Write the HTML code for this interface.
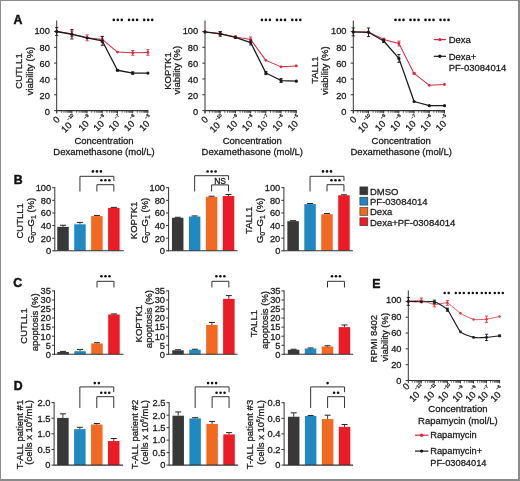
<!DOCTYPE html>
<html><head><meta charset="utf-8"><style>
html,body{margin:0;padding:0;background:#fff;width:520px;height:481px;overflow:hidden;}
svg{display:block;font-family:"Liberation Sans",sans-serif;will-change:transform;}
text{stroke:#1a1a1a;stroke-width:0.28px;}
</style></head><body>
<svg width="520" height="481" viewBox="0 0 520 481" font-family="Liberation Sans, sans-serif">
<g>
<rect x="0" y="0" width="520" height="481" fill="#fff"/>
<text x="13.6" y="23.8" font-size="12.3" text-anchor="start" font-weight="bold" fill="#111" style="stroke:#111;stroke-width:0.45px">A</text>
<text x="13.8" y="184.2" font-size="12.3" text-anchor="start" font-weight="bold" fill="#111" style="stroke:#111;stroke-width:0.45px">B</text>
<text x="13.2" y="287.4" font-size="12.3" text-anchor="start" font-weight="bold" fill="#111" style="stroke:#111;stroke-width:0.45px">C</text>
<text x="13.8" y="390.2" font-size="12.3" text-anchor="start" font-weight="bold" fill="#111" style="stroke:#111;stroke-width:0.45px">D</text>
<text x="372.2" y="288.2" font-size="12.3" text-anchor="start" font-weight="bold" fill="#111" style="stroke:#111;stroke-width:0.45px">E</text>
<line x1="56.7" y1="20.5" x2="56.7" y2="113.1" stroke="#333" stroke-width="1"/>
<line x1="54.1" y1="31.5" x2="56.7" y2="31.5" stroke="#333" stroke-width="1"/>
<text x="49.9" y="34.35" font-size="9.3" text-anchor="end" font-weight="normal" fill="#222" >100</text>
<line x1="54.1" y1="47.32" x2="56.7" y2="47.32" stroke="#333" stroke-width="1"/>
<text x="49.9" y="50.51" font-size="9.3" text-anchor="end" font-weight="normal" fill="#222" >80</text>
<line x1="54.1" y1="63.14" x2="56.7" y2="63.14" stroke="#333" stroke-width="1"/>
<text x="49.9" y="66.67" font-size="9.3" text-anchor="end" font-weight="normal" fill="#222" >60</text>
<line x1="54.1" y1="78.96" x2="56.7" y2="78.96" stroke="#333" stroke-width="1"/>
<text x="49.9" y="82.83" font-size="9.3" text-anchor="end" font-weight="normal" fill="#222" >40</text>
<line x1="54.1" y1="94.78" x2="56.7" y2="94.78" stroke="#333" stroke-width="1"/>
<text x="49.9" y="98.99" font-size="9.3" text-anchor="end" font-weight="normal" fill="#222" >20</text>
<line x1="54.1" y1="110.6" x2="56.7" y2="110.6" stroke="#333" stroke-width="1"/>
<text x="49.9" y="115.15" font-size="9.3" text-anchor="end" font-weight="normal" fill="#222" >0</text>
<line x1="56.7" y1="110.6" x2="148.4" y2="110.6" stroke="#333" stroke-width="1.1"/>
<line x1="61.28" y1="110.6" x2="61.28" y2="112.8" stroke="#333" stroke-width="0.75"/>
<line x1="63.95" y1="110.6" x2="63.95" y2="112.8" stroke="#333" stroke-width="0.75"/>
<line x1="65.85" y1="110.6" x2="65.85" y2="112.8" stroke="#333" stroke-width="0.75"/>
<line x1="67.32" y1="110.6" x2="67.32" y2="112.8" stroke="#333" stroke-width="0.75"/>
<line x1="68.53" y1="110.6" x2="68.53" y2="112.8" stroke="#333" stroke-width="0.75"/>
<line x1="69.55" y1="110.6" x2="69.55" y2="112.8" stroke="#333" stroke-width="0.75"/>
<line x1="70.43" y1="110.6" x2="70.43" y2="112.8" stroke="#333" stroke-width="0.75"/>
<line x1="71.2" y1="110.6" x2="71.2" y2="112.8" stroke="#333" stroke-width="0.75"/>
<line x1="76.48" y1="110.6" x2="76.48" y2="112.8" stroke="#333" stroke-width="0.75"/>
<line x1="79.15" y1="110.6" x2="79.15" y2="112.8" stroke="#333" stroke-width="0.75"/>
<line x1="81.05" y1="110.6" x2="81.05" y2="112.8" stroke="#333" stroke-width="0.75"/>
<line x1="82.52" y1="110.6" x2="82.52" y2="112.8" stroke="#333" stroke-width="0.75"/>
<line x1="83.73" y1="110.6" x2="83.73" y2="112.8" stroke="#333" stroke-width="0.75"/>
<line x1="84.75" y1="110.6" x2="84.75" y2="112.8" stroke="#333" stroke-width="0.75"/>
<line x1="85.63" y1="110.6" x2="85.63" y2="112.8" stroke="#333" stroke-width="0.75"/>
<line x1="86.4" y1="110.6" x2="86.4" y2="112.8" stroke="#333" stroke-width="0.75"/>
<line x1="91.68" y1="110.6" x2="91.68" y2="112.8" stroke="#333" stroke-width="0.75"/>
<line x1="94.35" y1="110.6" x2="94.35" y2="112.8" stroke="#333" stroke-width="0.75"/>
<line x1="96.25" y1="110.6" x2="96.25" y2="112.8" stroke="#333" stroke-width="0.75"/>
<line x1="97.72" y1="110.6" x2="97.72" y2="112.8" stroke="#333" stroke-width="0.75"/>
<line x1="98.93" y1="110.6" x2="98.93" y2="112.8" stroke="#333" stroke-width="0.75"/>
<line x1="99.95" y1="110.6" x2="99.95" y2="112.8" stroke="#333" stroke-width="0.75"/>
<line x1="100.83" y1="110.6" x2="100.83" y2="112.8" stroke="#333" stroke-width="0.75"/>
<line x1="101.6" y1="110.6" x2="101.6" y2="112.8" stroke="#333" stroke-width="0.75"/>
<line x1="106.88" y1="110.6" x2="106.88" y2="112.8" stroke="#333" stroke-width="0.75"/>
<line x1="109.55" y1="110.6" x2="109.55" y2="112.8" stroke="#333" stroke-width="0.75"/>
<line x1="111.45" y1="110.6" x2="111.45" y2="112.8" stroke="#333" stroke-width="0.75"/>
<line x1="112.92" y1="110.6" x2="112.92" y2="112.8" stroke="#333" stroke-width="0.75"/>
<line x1="114.13" y1="110.6" x2="114.13" y2="112.8" stroke="#333" stroke-width="0.75"/>
<line x1="115.15" y1="110.6" x2="115.15" y2="112.8" stroke="#333" stroke-width="0.75"/>
<line x1="116.03" y1="110.6" x2="116.03" y2="112.8" stroke="#333" stroke-width="0.75"/>
<line x1="116.8" y1="110.6" x2="116.8" y2="112.8" stroke="#333" stroke-width="0.75"/>
<line x1="122.08" y1="110.6" x2="122.08" y2="112.8" stroke="#333" stroke-width="0.75"/>
<line x1="124.75" y1="110.6" x2="124.75" y2="112.8" stroke="#333" stroke-width="0.75"/>
<line x1="126.65" y1="110.6" x2="126.65" y2="112.8" stroke="#333" stroke-width="0.75"/>
<line x1="128.12" y1="110.6" x2="128.12" y2="112.8" stroke="#333" stroke-width="0.75"/>
<line x1="129.33" y1="110.6" x2="129.33" y2="112.8" stroke="#333" stroke-width="0.75"/>
<line x1="130.35" y1="110.6" x2="130.35" y2="112.8" stroke="#333" stroke-width="0.75"/>
<line x1="131.23" y1="110.6" x2="131.23" y2="112.8" stroke="#333" stroke-width="0.75"/>
<line x1="132" y1="110.6" x2="132" y2="112.8" stroke="#333" stroke-width="0.75"/>
<line x1="137.28" y1="110.6" x2="137.28" y2="112.8" stroke="#333" stroke-width="0.75"/>
<line x1="139.95" y1="110.6" x2="139.95" y2="112.8" stroke="#333" stroke-width="0.75"/>
<line x1="141.85" y1="110.6" x2="141.85" y2="112.8" stroke="#333" stroke-width="0.75"/>
<line x1="143.32" y1="110.6" x2="143.32" y2="112.8" stroke="#333" stroke-width="0.75"/>
<line x1="144.53" y1="110.6" x2="144.53" y2="112.8" stroke="#333" stroke-width="0.75"/>
<line x1="145.55" y1="110.6" x2="145.55" y2="112.8" stroke="#333" stroke-width="0.75"/>
<line x1="146.43" y1="110.6" x2="146.43" y2="112.8" stroke="#333" stroke-width="0.75"/>
<line x1="147.2" y1="110.6" x2="147.2" y2="112.8" stroke="#333" stroke-width="0.75"/>
<line x1="56.7" y1="110.6" x2="56.7" y2="113.4" stroke="#333" stroke-width="1.0"/>
<line x1="71.9" y1="110.6" x2="71.9" y2="113.4" stroke="#333" stroke-width="1.0"/>
<line x1="87.1" y1="110.6" x2="87.1" y2="113.4" stroke="#333" stroke-width="1.0"/>
<line x1="102.3" y1="110.6" x2="102.3" y2="113.4" stroke="#333" stroke-width="1.0"/>
<line x1="117.5" y1="110.6" x2="117.5" y2="113.4" stroke="#333" stroke-width="1.0"/>
<line x1="132.7" y1="110.6" x2="132.7" y2="113.4" stroke="#333" stroke-width="1.0"/>
<line x1="147.9" y1="110.6" x2="147.9" y2="113.4" stroke="#333" stroke-width="1.0"/>
<text x="0" y="0" font-size="9.3" text-anchor="end" fill="#222" transform="translate(60.48,120.13) rotate(-45)">0</text>
<text x="0" y="0" font-size="9.3" text-anchor="end" fill="#222" transform="translate(78.27,120.03) rotate(-45)">10<tspan font-size="4.5" dx="0.7" dy="-6.3">−10</tspan></text>
<text x="0" y="0" font-size="9.3" text-anchor="end" fill="#222" transform="translate(93.6,120.2) rotate(-45)">10<tspan font-size="4.5" dx="0.7" dy="-6.3">−9</tspan></text>
<text x="0" y="0" font-size="9.3" text-anchor="end" fill="#222" transform="translate(108.8,120.2) rotate(-45)">10<tspan font-size="4.5" dx="0.7" dy="-6.3">−8</tspan></text>
<text x="0" y="0" font-size="9.3" text-anchor="end" fill="#222" transform="translate(124,120.2) rotate(-45)">10<tspan font-size="4.5" dx="0.7" dy="-6.3">−7</tspan></text>
<text x="0" y="0" font-size="9.3" text-anchor="end" fill="#222" transform="translate(139.2,120.2) rotate(-45)">10<tspan font-size="4.5" dx="0.7" dy="-6.3">−6</tspan></text>
<text x="0" y="0" font-size="9.3" text-anchor="end" fill="#222" transform="translate(154.4,120.2) rotate(-45)">10<tspan font-size="4.5" dx="0.7" dy="-6.3">−5</tspan></text>
<text x="104" y="144.1" font-size="9.5" text-anchor="middle" font-weight="normal" fill="#222" >Concentration</text>
<text x="104" y="155.4" font-size="9.5" text-anchor="middle" font-weight="normal" fill="#222" >Dexamethasone (mol/L)</text>
<text x="0" y="0" font-size="9.5" text-anchor="middle" fill="#222" transform="translate(21.6,71) rotate(-90)">CUTLL1</text>
<text x="0" y="0" font-size="9.5" text-anchor="middle" fill="#222" transform="translate(32.8,71) rotate(-90)">viability (%)</text>
<polyline points="56.7,31.5 71.9,33.87 87.1,37.83 102.3,39.41 117.5,52.07 132.7,52.86 147.9,52.46" fill="none" stroke="#d62a40" stroke-width="1.02" stroke-linejoin="round"/>
<circle cx="56.7" cy="31.5" r="1.4080000000000001" fill="#d62a40"/>
<line x1="71.9" y1="31.1" x2="71.9" y2="36.64" stroke="#d62a40" stroke-width="0.9"/>
<line x1="70.3" y1="31.1" x2="73.5" y2="31.1" stroke="#d62a40" stroke-width="0.9"/>
<line x1="70.3" y1="36.64" x2="73.5" y2="36.64" stroke="#d62a40" stroke-width="0.9"/>
<circle cx="71.9" cy="33.87" r="1.4080000000000001" fill="#d62a40"/>
<line x1="87.1" y1="34.82" x2="87.1" y2="40.83" stroke="#d62a40" stroke-width="0.9"/>
<line x1="85.5" y1="34.82" x2="88.7" y2="34.82" stroke="#d62a40" stroke-width="0.9"/>
<line x1="85.5" y1="40.83" x2="88.7" y2="40.83" stroke="#d62a40" stroke-width="0.9"/>
<circle cx="87.1" cy="37.83" r="1.4080000000000001" fill="#d62a40"/>
<line x1="102.3" y1="36.25" x2="102.3" y2="42.57" stroke="#d62a40" stroke-width="0.9"/>
<line x1="100.7" y1="36.25" x2="103.9" y2="36.25" stroke="#d62a40" stroke-width="0.9"/>
<line x1="100.7" y1="42.57" x2="103.9" y2="42.57" stroke="#d62a40" stroke-width="0.9"/>
<circle cx="102.3" cy="39.41" r="1.4080000000000001" fill="#d62a40"/>
<circle cx="117.5" cy="52.07" r="1.4080000000000001" fill="#d62a40"/>
<line x1="132.7" y1="50.48" x2="132.7" y2="55.23" stroke="#d62a40" stroke-width="0.9"/>
<line x1="131.1" y1="50.48" x2="134.3" y2="50.48" stroke="#d62a40" stroke-width="0.9"/>
<line x1="131.1" y1="55.23" x2="134.3" y2="55.23" stroke="#d62a40" stroke-width="0.9"/>
<circle cx="132.7" cy="52.86" r="1.4080000000000001" fill="#d62a40"/>
<line x1="147.9" y1="49.69" x2="147.9" y2="55.23" stroke="#d62a40" stroke-width="0.9"/>
<line x1="146.3" y1="49.69" x2="149.5" y2="49.69" stroke="#d62a40" stroke-width="0.9"/>
<line x1="146.3" y1="55.23" x2="149.5" y2="55.23" stroke="#d62a40" stroke-width="0.9"/>
<circle cx="147.9" cy="52.46" r="1.4080000000000001" fill="#d62a40"/>
<polyline points="56.7,31.5 71.9,34.27 87.1,37.83 102.3,40.99 117.5,70.26 132.7,73.03 147.9,73.03" fill="none" stroke="#1a1a1a" stroke-width="1.296" stroke-linejoin="round"/>
<line x1="56.7" y1="27.55" x2="56.7" y2="35.45" stroke="#1a1a1a" stroke-width="0.9"/>
<line x1="55.1" y1="27.55" x2="58.3" y2="27.55" stroke="#1a1a1a" stroke-width="0.9"/>
<line x1="55.1" y1="35.45" x2="58.3" y2="35.45" stroke="#1a1a1a" stroke-width="0.9"/>
<circle cx="56.7" cy="31.5" r="1.6" fill="#1a1a1a"/>
<line x1="71.9" y1="29.52" x2="71.9" y2="39.01" stroke="#1a1a1a" stroke-width="0.9"/>
<line x1="70.3" y1="29.52" x2="73.5" y2="29.52" stroke="#1a1a1a" stroke-width="0.9"/>
<line x1="70.3" y1="39.01" x2="73.5" y2="39.01" stroke="#1a1a1a" stroke-width="0.9"/>
<circle cx="71.9" cy="34.27" r="1.6" fill="#1a1a1a"/>
<circle cx="87.1" cy="37.83" r="1.6" fill="#1a1a1a"/>
<line x1="102.3" y1="36.64" x2="102.3" y2="45.34" stroke="#1a1a1a" stroke-width="0.9"/>
<line x1="100.7" y1="36.64" x2="103.9" y2="36.64" stroke="#1a1a1a" stroke-width="0.9"/>
<line x1="100.7" y1="45.34" x2="103.9" y2="45.34" stroke="#1a1a1a" stroke-width="0.9"/>
<circle cx="102.3" cy="40.99" r="1.6" fill="#1a1a1a"/>
<line x1="117.5" y1="69.47" x2="117.5" y2="71.05" stroke="#1a1a1a" stroke-width="0.9"/>
<line x1="115.9" y1="69.47" x2="119.1" y2="69.47" stroke="#1a1a1a" stroke-width="0.9"/>
<line x1="115.9" y1="71.05" x2="119.1" y2="71.05" stroke="#1a1a1a" stroke-width="0.9"/>
<circle cx="117.5" cy="70.26" r="1.6" fill="#1a1a1a"/>
<line x1="132.7" y1="71.84" x2="132.7" y2="74.21" stroke="#1a1a1a" stroke-width="0.9"/>
<line x1="131.1" y1="71.84" x2="134.3" y2="71.84" stroke="#1a1a1a" stroke-width="0.9"/>
<line x1="131.1" y1="74.21" x2="134.3" y2="74.21" stroke="#1a1a1a" stroke-width="0.9"/>
<circle cx="132.7" cy="73.03" r="1.6" fill="#1a1a1a"/>
<circle cx="147.9" cy="73.03" r="1.6" fill="#1a1a1a"/>
<circle cx="113.8" cy="19.9" r="1.3" fill="#111"/>
<circle cx="117.8" cy="19.9" r="1.3" fill="#111"/>
<circle cx="121.8" cy="19.9" r="1.3" fill="#111"/>
<circle cx="129.05" cy="19.9" r="1.3" fill="#111"/>
<circle cx="133.05" cy="19.9" r="1.3" fill="#111"/>
<circle cx="137.05" cy="19.9" r="1.3" fill="#111"/>
<circle cx="144.2" cy="19.9" r="1.3" fill="#111"/>
<circle cx="148.2" cy="19.9" r="1.3" fill="#111"/>
<circle cx="152.2" cy="19.9" r="1.3" fill="#111"/>
<line x1="205" y1="20.5" x2="205" y2="113.1" stroke="#333" stroke-width="1"/>
<line x1="202.4" y1="31.5" x2="205" y2="31.5" stroke="#333" stroke-width="1"/>
<text x="198.2" y="34.35" font-size="9.3" text-anchor="end" font-weight="normal" fill="#222" >100</text>
<line x1="202.4" y1="47.32" x2="205" y2="47.32" stroke="#333" stroke-width="1"/>
<text x="198.2" y="50.51" font-size="9.3" text-anchor="end" font-weight="normal" fill="#222" >80</text>
<line x1="202.4" y1="63.14" x2="205" y2="63.14" stroke="#333" stroke-width="1"/>
<text x="198.2" y="66.67" font-size="9.3" text-anchor="end" font-weight="normal" fill="#222" >60</text>
<line x1="202.4" y1="78.96" x2="205" y2="78.96" stroke="#333" stroke-width="1"/>
<text x="198.2" y="82.83" font-size="9.3" text-anchor="end" font-weight="normal" fill="#222" >40</text>
<line x1="202.4" y1="94.78" x2="205" y2="94.78" stroke="#333" stroke-width="1"/>
<text x="198.2" y="98.99" font-size="9.3" text-anchor="end" font-weight="normal" fill="#222" >20</text>
<line x1="202.4" y1="110.6" x2="205" y2="110.6" stroke="#333" stroke-width="1"/>
<text x="198.2" y="115.15" font-size="9.3" text-anchor="end" font-weight="normal" fill="#222" >0</text>
<line x1="205" y1="110.6" x2="296.82" y2="110.6" stroke="#333" stroke-width="1.1"/>
<line x1="209.58" y1="110.6" x2="209.58" y2="112.8" stroke="#333" stroke-width="0.75"/>
<line x1="212.26" y1="110.6" x2="212.26" y2="112.8" stroke="#333" stroke-width="0.75"/>
<line x1="214.16" y1="110.6" x2="214.16" y2="112.8" stroke="#333" stroke-width="0.75"/>
<line x1="215.64" y1="110.6" x2="215.64" y2="112.8" stroke="#333" stroke-width="0.75"/>
<line x1="216.84" y1="110.6" x2="216.84" y2="112.8" stroke="#333" stroke-width="0.75"/>
<line x1="217.86" y1="110.6" x2="217.86" y2="112.8" stroke="#333" stroke-width="0.75"/>
<line x1="218.75" y1="110.6" x2="218.75" y2="112.8" stroke="#333" stroke-width="0.75"/>
<line x1="219.52" y1="110.6" x2="219.52" y2="112.8" stroke="#333" stroke-width="0.75"/>
<line x1="224.8" y1="110.6" x2="224.8" y2="112.8" stroke="#333" stroke-width="0.75"/>
<line x1="227.48" y1="110.6" x2="227.48" y2="112.8" stroke="#333" stroke-width="0.75"/>
<line x1="229.38" y1="110.6" x2="229.38" y2="112.8" stroke="#333" stroke-width="0.75"/>
<line x1="230.86" y1="110.6" x2="230.86" y2="112.8" stroke="#333" stroke-width="0.75"/>
<line x1="232.06" y1="110.6" x2="232.06" y2="112.8" stroke="#333" stroke-width="0.75"/>
<line x1="233.08" y1="110.6" x2="233.08" y2="112.8" stroke="#333" stroke-width="0.75"/>
<line x1="233.97" y1="110.6" x2="233.97" y2="112.8" stroke="#333" stroke-width="0.75"/>
<line x1="234.74" y1="110.6" x2="234.74" y2="112.8" stroke="#333" stroke-width="0.75"/>
<line x1="240.02" y1="110.6" x2="240.02" y2="112.8" stroke="#333" stroke-width="0.75"/>
<line x1="242.7" y1="110.6" x2="242.7" y2="112.8" stroke="#333" stroke-width="0.75"/>
<line x1="244.6" y1="110.6" x2="244.6" y2="112.8" stroke="#333" stroke-width="0.75"/>
<line x1="246.08" y1="110.6" x2="246.08" y2="112.8" stroke="#333" stroke-width="0.75"/>
<line x1="247.28" y1="110.6" x2="247.28" y2="112.8" stroke="#333" stroke-width="0.75"/>
<line x1="248.3" y1="110.6" x2="248.3" y2="112.8" stroke="#333" stroke-width="0.75"/>
<line x1="249.19" y1="110.6" x2="249.19" y2="112.8" stroke="#333" stroke-width="0.75"/>
<line x1="249.96" y1="110.6" x2="249.96" y2="112.8" stroke="#333" stroke-width="0.75"/>
<line x1="255.24" y1="110.6" x2="255.24" y2="112.8" stroke="#333" stroke-width="0.75"/>
<line x1="257.92" y1="110.6" x2="257.92" y2="112.8" stroke="#333" stroke-width="0.75"/>
<line x1="259.82" y1="110.6" x2="259.82" y2="112.8" stroke="#333" stroke-width="0.75"/>
<line x1="261.3" y1="110.6" x2="261.3" y2="112.8" stroke="#333" stroke-width="0.75"/>
<line x1="262.5" y1="110.6" x2="262.5" y2="112.8" stroke="#333" stroke-width="0.75"/>
<line x1="263.52" y1="110.6" x2="263.52" y2="112.8" stroke="#333" stroke-width="0.75"/>
<line x1="264.41" y1="110.6" x2="264.41" y2="112.8" stroke="#333" stroke-width="0.75"/>
<line x1="265.18" y1="110.6" x2="265.18" y2="112.8" stroke="#333" stroke-width="0.75"/>
<line x1="270.46" y1="110.6" x2="270.46" y2="112.8" stroke="#333" stroke-width="0.75"/>
<line x1="273.14" y1="110.6" x2="273.14" y2="112.8" stroke="#333" stroke-width="0.75"/>
<line x1="275.04" y1="110.6" x2="275.04" y2="112.8" stroke="#333" stroke-width="0.75"/>
<line x1="276.52" y1="110.6" x2="276.52" y2="112.8" stroke="#333" stroke-width="0.75"/>
<line x1="277.72" y1="110.6" x2="277.72" y2="112.8" stroke="#333" stroke-width="0.75"/>
<line x1="278.74" y1="110.6" x2="278.74" y2="112.8" stroke="#333" stroke-width="0.75"/>
<line x1="279.63" y1="110.6" x2="279.63" y2="112.8" stroke="#333" stroke-width="0.75"/>
<line x1="280.4" y1="110.6" x2="280.4" y2="112.8" stroke="#333" stroke-width="0.75"/>
<line x1="285.68" y1="110.6" x2="285.68" y2="112.8" stroke="#333" stroke-width="0.75"/>
<line x1="288.36" y1="110.6" x2="288.36" y2="112.8" stroke="#333" stroke-width="0.75"/>
<line x1="290.26" y1="110.6" x2="290.26" y2="112.8" stroke="#333" stroke-width="0.75"/>
<line x1="291.74" y1="110.6" x2="291.74" y2="112.8" stroke="#333" stroke-width="0.75"/>
<line x1="292.94" y1="110.6" x2="292.94" y2="112.8" stroke="#333" stroke-width="0.75"/>
<line x1="293.96" y1="110.6" x2="293.96" y2="112.8" stroke="#333" stroke-width="0.75"/>
<line x1="294.85" y1="110.6" x2="294.85" y2="112.8" stroke="#333" stroke-width="0.75"/>
<line x1="295.62" y1="110.6" x2="295.62" y2="112.8" stroke="#333" stroke-width="0.75"/>
<line x1="205" y1="110.6" x2="205" y2="113.4" stroke="#333" stroke-width="1.0"/>
<line x1="220.22" y1="110.6" x2="220.22" y2="113.4" stroke="#333" stroke-width="1.0"/>
<line x1="235.44" y1="110.6" x2="235.44" y2="113.4" stroke="#333" stroke-width="1.0"/>
<line x1="250.66" y1="110.6" x2="250.66" y2="113.4" stroke="#333" stroke-width="1.0"/>
<line x1="265.88" y1="110.6" x2="265.88" y2="113.4" stroke="#333" stroke-width="1.0"/>
<line x1="281.1" y1="110.6" x2="281.1" y2="113.4" stroke="#333" stroke-width="1.0"/>
<line x1="296.32" y1="110.6" x2="296.32" y2="113.4" stroke="#333" stroke-width="1.0"/>
<text x="0" y="0" font-size="9.3" text-anchor="end" fill="#222" transform="translate(208.78,120.13) rotate(-45)">0</text>
<text x="0" y="0" font-size="9.3" text-anchor="end" fill="#222" transform="translate(226.59,120.03) rotate(-45)">10<tspan font-size="4.5" dx="0.7" dy="-6.3">−10</tspan></text>
<text x="0" y="0" font-size="9.3" text-anchor="end" fill="#222" transform="translate(241.94,120.2) rotate(-45)">10<tspan font-size="4.5" dx="0.7" dy="-6.3">−9</tspan></text>
<text x="0" y="0" font-size="9.3" text-anchor="end" fill="#222" transform="translate(257.16,120.2) rotate(-45)">10<tspan font-size="4.5" dx="0.7" dy="-6.3">−8</tspan></text>
<text x="0" y="0" font-size="9.3" text-anchor="end" fill="#222" transform="translate(272.38,120.2) rotate(-45)">10<tspan font-size="4.5" dx="0.7" dy="-6.3">−7</tspan></text>
<text x="0" y="0" font-size="9.3" text-anchor="end" fill="#222" transform="translate(287.6,120.2) rotate(-45)">10<tspan font-size="4.5" dx="0.7" dy="-6.3">−6</tspan></text>
<text x="0" y="0" font-size="9.3" text-anchor="end" fill="#222" transform="translate(302.82,120.2) rotate(-45)">10<tspan font-size="4.5" dx="0.7" dy="-6.3">−5</tspan></text>
<text x="252.3" y="144.1" font-size="9.5" text-anchor="middle" font-weight="normal" fill="#222" >Concentration</text>
<text x="252.3" y="155.4" font-size="9.5" text-anchor="middle" font-weight="normal" fill="#222" >Dexamethasone (mol/L)</text>
<text x="0" y="0" font-size="9.5" text-anchor="middle" fill="#222" transform="translate(170.6,71) rotate(-90)">KOPTK1</text>
<text x="0" y="0" font-size="9.5" text-anchor="middle" fill="#222" transform="translate(180.3,70.2) rotate(-90)">viability (%)</text>
<polyline points="205,31.9 220.22,33.48 235.44,37.04 250.66,39.41 265.88,60.37 281.1,66.86 296.32,65.91" fill="none" stroke="#d62a40" stroke-width="1.02" stroke-linejoin="round"/>
<circle cx="205" cy="31.9" r="1.4080000000000001" fill="#d62a40"/>
<line x1="220.22" y1="31.9" x2="220.22" y2="35.06" stroke="#d62a40" stroke-width="0.9"/>
<line x1="218.62" y1="31.9" x2="221.82" y2="31.9" stroke="#d62a40" stroke-width="0.9"/>
<line x1="218.62" y1="35.06" x2="221.82" y2="35.06" stroke="#d62a40" stroke-width="0.9"/>
<circle cx="220.22" cy="33.48" r="1.4080000000000001" fill="#d62a40"/>
<line x1="235.44" y1="35.85" x2="235.44" y2="38.22" stroke="#d62a40" stroke-width="0.9"/>
<line x1="233.84" y1="35.85" x2="237.04" y2="35.85" stroke="#d62a40" stroke-width="0.9"/>
<line x1="233.84" y1="38.22" x2="237.04" y2="38.22" stroke="#d62a40" stroke-width="0.9"/>
<circle cx="235.44" cy="37.04" r="1.4080000000000001" fill="#d62a40"/>
<line x1="250.66" y1="37.04" x2="250.66" y2="41.78" stroke="#d62a40" stroke-width="0.9"/>
<line x1="249.06" y1="37.04" x2="252.26" y2="37.04" stroke="#d62a40" stroke-width="0.9"/>
<line x1="249.06" y1="41.78" x2="252.26" y2="41.78" stroke="#d62a40" stroke-width="0.9"/>
<circle cx="250.66" cy="39.41" r="1.4080000000000001" fill="#d62a40"/>
<circle cx="265.88" cy="60.37" r="1.4080000000000001" fill="#d62a40"/>
<circle cx="281.1" cy="66.86" r="1.4080000000000001" fill="#d62a40"/>
<circle cx="296.32" cy="65.91" r="1.4080000000000001" fill="#d62a40"/>
<polyline points="205,31.9 220.22,33.87 235.44,37.43 250.66,42.57 265.88,73.03 281.1,80.54 296.32,81.17" fill="none" stroke="#1a1a1a" stroke-width="1.296" stroke-linejoin="round"/>
<circle cx="205" cy="31.9" r="1.6" fill="#1a1a1a"/>
<line x1="220.22" y1="31.5" x2="220.22" y2="36.25" stroke="#1a1a1a" stroke-width="0.9"/>
<line x1="218.62" y1="31.5" x2="221.82" y2="31.5" stroke="#1a1a1a" stroke-width="0.9"/>
<line x1="218.62" y1="36.25" x2="221.82" y2="36.25" stroke="#1a1a1a" stroke-width="0.9"/>
<circle cx="220.22" cy="33.87" r="1.6" fill="#1a1a1a"/>
<circle cx="235.44" cy="37.43" r="1.6" fill="#1a1a1a"/>
<line x1="250.66" y1="40.2" x2="250.66" y2="44.95" stroke="#1a1a1a" stroke-width="0.9"/>
<line x1="249.06" y1="40.2" x2="252.26" y2="40.2" stroke="#1a1a1a" stroke-width="0.9"/>
<line x1="249.06" y1="44.95" x2="252.26" y2="44.95" stroke="#1a1a1a" stroke-width="0.9"/>
<circle cx="250.66" cy="42.57" r="1.6" fill="#1a1a1a"/>
<line x1="265.88" y1="71.45" x2="265.88" y2="74.61" stroke="#1a1a1a" stroke-width="0.9"/>
<line x1="264.28" y1="71.45" x2="267.48" y2="71.45" stroke="#1a1a1a" stroke-width="0.9"/>
<line x1="264.28" y1="74.61" x2="267.48" y2="74.61" stroke="#1a1a1a" stroke-width="0.9"/>
<circle cx="265.88" cy="73.03" r="1.6" fill="#1a1a1a"/>
<line x1="281.1" y1="78.56" x2="281.1" y2="82.52" stroke="#1a1a1a" stroke-width="0.9"/>
<line x1="279.5" y1="78.56" x2="282.7" y2="78.56" stroke="#1a1a1a" stroke-width="0.9"/>
<line x1="279.5" y1="82.52" x2="282.7" y2="82.52" stroke="#1a1a1a" stroke-width="0.9"/>
<circle cx="281.1" cy="80.54" r="1.6" fill="#1a1a1a"/>
<circle cx="296.32" cy="81.17" r="1.6" fill="#1a1a1a"/>
<circle cx="261.9" cy="19.9" r="1.3" fill="#111"/>
<circle cx="265.9" cy="19.9" r="1.3" fill="#111"/>
<circle cx="269.9" cy="19.9" r="1.3" fill="#111"/>
<circle cx="277" cy="19.9" r="1.3" fill="#111"/>
<circle cx="281" cy="19.9" r="1.3" fill="#111"/>
<circle cx="285" cy="19.9" r="1.3" fill="#111"/>
<circle cx="292.3" cy="19.9" r="1.3" fill="#111"/>
<circle cx="296.3" cy="19.9" r="1.3" fill="#111"/>
<circle cx="300.3" cy="19.9" r="1.3" fill="#111"/>
<line x1="353.3" y1="20.5" x2="353.3" y2="113.1" stroke="#333" stroke-width="1"/>
<line x1="350.7" y1="31.5" x2="353.3" y2="31.5" stroke="#333" stroke-width="1"/>
<text x="346.5" y="34.35" font-size="9.3" text-anchor="end" font-weight="normal" fill="#222" >100</text>
<line x1="350.7" y1="47.32" x2="353.3" y2="47.32" stroke="#333" stroke-width="1"/>
<text x="346.5" y="50.51" font-size="9.3" text-anchor="end" font-weight="normal" fill="#222" >80</text>
<line x1="350.7" y1="63.14" x2="353.3" y2="63.14" stroke="#333" stroke-width="1"/>
<text x="346.5" y="66.67" font-size="9.3" text-anchor="end" font-weight="normal" fill="#222" >60</text>
<line x1="350.7" y1="78.96" x2="353.3" y2="78.96" stroke="#333" stroke-width="1"/>
<text x="346.5" y="82.83" font-size="9.3" text-anchor="end" font-weight="normal" fill="#222" >40</text>
<line x1="350.7" y1="94.78" x2="353.3" y2="94.78" stroke="#333" stroke-width="1"/>
<text x="346.5" y="98.99" font-size="9.3" text-anchor="end" font-weight="normal" fill="#222" >20</text>
<line x1="350.7" y1="110.6" x2="353.3" y2="110.6" stroke="#333" stroke-width="1"/>
<text x="346.5" y="115.15" font-size="9.3" text-anchor="end" font-weight="normal" fill="#222" >0</text>
<line x1="353.3" y1="110.6" x2="445" y2="110.6" stroke="#333" stroke-width="1.1"/>
<line x1="357.88" y1="110.6" x2="357.88" y2="112.8" stroke="#333" stroke-width="0.75"/>
<line x1="360.55" y1="110.6" x2="360.55" y2="112.8" stroke="#333" stroke-width="0.75"/>
<line x1="362.45" y1="110.6" x2="362.45" y2="112.8" stroke="#333" stroke-width="0.75"/>
<line x1="363.92" y1="110.6" x2="363.92" y2="112.8" stroke="#333" stroke-width="0.75"/>
<line x1="365.13" y1="110.6" x2="365.13" y2="112.8" stroke="#333" stroke-width="0.75"/>
<line x1="366.15" y1="110.6" x2="366.15" y2="112.8" stroke="#333" stroke-width="0.75"/>
<line x1="367.03" y1="110.6" x2="367.03" y2="112.8" stroke="#333" stroke-width="0.75"/>
<line x1="367.8" y1="110.6" x2="367.8" y2="112.8" stroke="#333" stroke-width="0.75"/>
<line x1="373.08" y1="110.6" x2="373.08" y2="112.8" stroke="#333" stroke-width="0.75"/>
<line x1="375.75" y1="110.6" x2="375.75" y2="112.8" stroke="#333" stroke-width="0.75"/>
<line x1="377.65" y1="110.6" x2="377.65" y2="112.8" stroke="#333" stroke-width="0.75"/>
<line x1="379.12" y1="110.6" x2="379.12" y2="112.8" stroke="#333" stroke-width="0.75"/>
<line x1="380.33" y1="110.6" x2="380.33" y2="112.8" stroke="#333" stroke-width="0.75"/>
<line x1="381.35" y1="110.6" x2="381.35" y2="112.8" stroke="#333" stroke-width="0.75"/>
<line x1="382.23" y1="110.6" x2="382.23" y2="112.8" stroke="#333" stroke-width="0.75"/>
<line x1="383" y1="110.6" x2="383" y2="112.8" stroke="#333" stroke-width="0.75"/>
<line x1="388.28" y1="110.6" x2="388.28" y2="112.8" stroke="#333" stroke-width="0.75"/>
<line x1="390.95" y1="110.6" x2="390.95" y2="112.8" stroke="#333" stroke-width="0.75"/>
<line x1="392.85" y1="110.6" x2="392.85" y2="112.8" stroke="#333" stroke-width="0.75"/>
<line x1="394.32" y1="110.6" x2="394.32" y2="112.8" stroke="#333" stroke-width="0.75"/>
<line x1="395.53" y1="110.6" x2="395.53" y2="112.8" stroke="#333" stroke-width="0.75"/>
<line x1="396.55" y1="110.6" x2="396.55" y2="112.8" stroke="#333" stroke-width="0.75"/>
<line x1="397.43" y1="110.6" x2="397.43" y2="112.8" stroke="#333" stroke-width="0.75"/>
<line x1="398.2" y1="110.6" x2="398.2" y2="112.8" stroke="#333" stroke-width="0.75"/>
<line x1="403.48" y1="110.6" x2="403.48" y2="112.8" stroke="#333" stroke-width="0.75"/>
<line x1="406.15" y1="110.6" x2="406.15" y2="112.8" stroke="#333" stroke-width="0.75"/>
<line x1="408.05" y1="110.6" x2="408.05" y2="112.8" stroke="#333" stroke-width="0.75"/>
<line x1="409.52" y1="110.6" x2="409.52" y2="112.8" stroke="#333" stroke-width="0.75"/>
<line x1="410.73" y1="110.6" x2="410.73" y2="112.8" stroke="#333" stroke-width="0.75"/>
<line x1="411.75" y1="110.6" x2="411.75" y2="112.8" stroke="#333" stroke-width="0.75"/>
<line x1="412.63" y1="110.6" x2="412.63" y2="112.8" stroke="#333" stroke-width="0.75"/>
<line x1="413.4" y1="110.6" x2="413.4" y2="112.8" stroke="#333" stroke-width="0.75"/>
<line x1="418.68" y1="110.6" x2="418.68" y2="112.8" stroke="#333" stroke-width="0.75"/>
<line x1="421.35" y1="110.6" x2="421.35" y2="112.8" stroke="#333" stroke-width="0.75"/>
<line x1="423.25" y1="110.6" x2="423.25" y2="112.8" stroke="#333" stroke-width="0.75"/>
<line x1="424.72" y1="110.6" x2="424.72" y2="112.8" stroke="#333" stroke-width="0.75"/>
<line x1="425.93" y1="110.6" x2="425.93" y2="112.8" stroke="#333" stroke-width="0.75"/>
<line x1="426.95" y1="110.6" x2="426.95" y2="112.8" stroke="#333" stroke-width="0.75"/>
<line x1="427.83" y1="110.6" x2="427.83" y2="112.8" stroke="#333" stroke-width="0.75"/>
<line x1="428.6" y1="110.6" x2="428.6" y2="112.8" stroke="#333" stroke-width="0.75"/>
<line x1="433.88" y1="110.6" x2="433.88" y2="112.8" stroke="#333" stroke-width="0.75"/>
<line x1="436.55" y1="110.6" x2="436.55" y2="112.8" stroke="#333" stroke-width="0.75"/>
<line x1="438.45" y1="110.6" x2="438.45" y2="112.8" stroke="#333" stroke-width="0.75"/>
<line x1="439.92" y1="110.6" x2="439.92" y2="112.8" stroke="#333" stroke-width="0.75"/>
<line x1="441.13" y1="110.6" x2="441.13" y2="112.8" stroke="#333" stroke-width="0.75"/>
<line x1="442.15" y1="110.6" x2="442.15" y2="112.8" stroke="#333" stroke-width="0.75"/>
<line x1="443.03" y1="110.6" x2="443.03" y2="112.8" stroke="#333" stroke-width="0.75"/>
<line x1="443.8" y1="110.6" x2="443.8" y2="112.8" stroke="#333" stroke-width="0.75"/>
<line x1="353.3" y1="110.6" x2="353.3" y2="113.4" stroke="#333" stroke-width="1.0"/>
<line x1="368.5" y1="110.6" x2="368.5" y2="113.4" stroke="#333" stroke-width="1.0"/>
<line x1="383.7" y1="110.6" x2="383.7" y2="113.4" stroke="#333" stroke-width="1.0"/>
<line x1="398.9" y1="110.6" x2="398.9" y2="113.4" stroke="#333" stroke-width="1.0"/>
<line x1="414.1" y1="110.6" x2="414.1" y2="113.4" stroke="#333" stroke-width="1.0"/>
<line x1="429.3" y1="110.6" x2="429.3" y2="113.4" stroke="#333" stroke-width="1.0"/>
<line x1="444.5" y1="110.6" x2="444.5" y2="113.4" stroke="#333" stroke-width="1.0"/>
<text x="0" y="0" font-size="9.3" text-anchor="end" fill="#222" transform="translate(357.08,120.13) rotate(-45)">0</text>
<text x="0" y="0" font-size="9.3" text-anchor="end" fill="#222" transform="translate(374.87,120.03) rotate(-45)">10<tspan font-size="4.5" dx="0.7" dy="-6.3">−10</tspan></text>
<text x="0" y="0" font-size="9.3" text-anchor="end" fill="#222" transform="translate(390.2,120.2) rotate(-45)">10<tspan font-size="4.5" dx="0.7" dy="-6.3">−9</tspan></text>
<text x="0" y="0" font-size="9.3" text-anchor="end" fill="#222" transform="translate(405.4,120.2) rotate(-45)">10<tspan font-size="4.5" dx="0.7" dy="-6.3">−8</tspan></text>
<text x="0" y="0" font-size="9.3" text-anchor="end" fill="#222" transform="translate(420.6,120.2) rotate(-45)">10<tspan font-size="4.5" dx="0.7" dy="-6.3">−7</tspan></text>
<text x="0" y="0" font-size="9.3" text-anchor="end" fill="#222" transform="translate(435.8,120.2) rotate(-45)">10<tspan font-size="4.5" dx="0.7" dy="-6.3">−6</tspan></text>
<text x="0" y="0" font-size="9.3" text-anchor="end" fill="#222" transform="translate(451,120.2) rotate(-45)">10<tspan font-size="4.5" dx="0.7" dy="-6.3">−5</tspan></text>
<text x="401.2" y="144.1" font-size="9.5" text-anchor="middle" font-weight="normal" fill="#222" >Concentration</text>
<text x="401.2" y="155.4" font-size="9.5" text-anchor="middle" font-weight="normal" fill="#222" >Dexamethasone (mol/L)</text>
<text x="0" y="0" font-size="9.5" text-anchor="middle" fill="#222" transform="translate(317.6,70.2) rotate(-90)">TALL1</text>
<text x="0" y="0" font-size="9.5" text-anchor="middle" fill="#222" transform="translate(327.8,70.6) rotate(-90)">viability (%)</text>
<polyline points="353.3,31.9 368.5,31.9 383.7,39.41 398.9,43.52 414.1,73.42 429.3,85.29 444.5,84.5" fill="none" stroke="#d62a40" stroke-width="1.02" stroke-linejoin="round"/>
<circle cx="353.3" cy="31.9" r="1.4080000000000001" fill="#d62a40"/>
<circle cx="368.5" cy="31.9" r="1.4080000000000001" fill="#d62a40"/>
<line x1="383.7" y1="38.22" x2="383.7" y2="40.6" stroke="#d62a40" stroke-width="0.9"/>
<line x1="382.1" y1="38.22" x2="385.3" y2="38.22" stroke="#d62a40" stroke-width="0.9"/>
<line x1="382.1" y1="40.6" x2="385.3" y2="40.6" stroke="#d62a40" stroke-width="0.9"/>
<circle cx="383.7" cy="39.41" r="1.4080000000000001" fill="#d62a40"/>
<line x1="398.9" y1="41.15" x2="398.9" y2="45.9" stroke="#d62a40" stroke-width="0.9"/>
<line x1="397.3" y1="41.15" x2="400.5" y2="41.15" stroke="#d62a40" stroke-width="0.9"/>
<line x1="397.3" y1="45.9" x2="400.5" y2="45.9" stroke="#d62a40" stroke-width="0.9"/>
<circle cx="398.9" cy="43.52" r="1.4080000000000001" fill="#d62a40"/>
<line x1="414.1" y1="72.63" x2="414.1" y2="74.21" stroke="#d62a40" stroke-width="0.9"/>
<line x1="412.5" y1="72.63" x2="415.7" y2="72.63" stroke="#d62a40" stroke-width="0.9"/>
<line x1="412.5" y1="74.21" x2="415.7" y2="74.21" stroke="#d62a40" stroke-width="0.9"/>
<circle cx="414.1" cy="73.42" r="1.4080000000000001" fill="#d62a40"/>
<circle cx="429.3" cy="85.29" r="1.4080000000000001" fill="#d62a40"/>
<circle cx="444.5" cy="84.5" r="1.4080000000000001" fill="#d62a40"/>
<polyline points="353.3,31.9 368.5,32.29 383.7,40.99 398.9,58.39 414.1,101.5 429.3,105.7 444.5,105.7" fill="none" stroke="#1a1a1a" stroke-width="1.296" stroke-linejoin="round"/>
<line x1="353.3" y1="27.94" x2="353.3" y2="35.85" stroke="#1a1a1a" stroke-width="0.9"/>
<line x1="351.7" y1="27.94" x2="354.9" y2="27.94" stroke="#1a1a1a" stroke-width="0.9"/>
<line x1="351.7" y1="35.85" x2="354.9" y2="35.85" stroke="#1a1a1a" stroke-width="0.9"/>
<circle cx="353.3" cy="31.9" r="1.6" fill="#1a1a1a"/>
<line x1="368.5" y1="27.94" x2="368.5" y2="36.64" stroke="#1a1a1a" stroke-width="0.9"/>
<line x1="366.9" y1="27.94" x2="370.1" y2="27.94" stroke="#1a1a1a" stroke-width="0.9"/>
<line x1="366.9" y1="36.64" x2="370.1" y2="36.64" stroke="#1a1a1a" stroke-width="0.9"/>
<circle cx="368.5" cy="32.29" r="1.6" fill="#1a1a1a"/>
<line x1="383.7" y1="39.41" x2="383.7" y2="42.57" stroke="#1a1a1a" stroke-width="0.9"/>
<line x1="382.1" y1="39.41" x2="385.3" y2="39.41" stroke="#1a1a1a" stroke-width="0.9"/>
<line x1="382.1" y1="42.57" x2="385.3" y2="42.57" stroke="#1a1a1a" stroke-width="0.9"/>
<circle cx="383.7" cy="40.99" r="1.6" fill="#1a1a1a"/>
<line x1="398.9" y1="54.44" x2="398.9" y2="62.35" stroke="#1a1a1a" stroke-width="0.9"/>
<line x1="397.3" y1="54.44" x2="400.5" y2="54.44" stroke="#1a1a1a" stroke-width="0.9"/>
<line x1="397.3" y1="62.35" x2="400.5" y2="62.35" stroke="#1a1a1a" stroke-width="0.9"/>
<circle cx="398.9" cy="58.39" r="1.6" fill="#1a1a1a"/>
<circle cx="414.1" cy="101.5" r="1.6" fill="#1a1a1a"/>
<circle cx="429.3" cy="105.7" r="1.6" fill="#1a1a1a"/>
<circle cx="444.5" cy="105.7" r="1.6" fill="#1a1a1a"/>
<circle cx="395.5" cy="19.9" r="1.3" fill="#111"/>
<circle cx="399.5" cy="19.9" r="1.3" fill="#111"/>
<circle cx="403.5" cy="19.9" r="1.3" fill="#111"/>
<circle cx="410.5" cy="19.9" r="1.3" fill="#111"/>
<circle cx="414.5" cy="19.9" r="1.3" fill="#111"/>
<circle cx="418.5" cy="19.9" r="1.3" fill="#111"/>
<circle cx="425.5" cy="19.9" r="1.3" fill="#111"/>
<circle cx="429.5" cy="19.9" r="1.3" fill="#111"/>
<circle cx="433.5" cy="19.9" r="1.3" fill="#111"/>
<circle cx="440.5" cy="19.9" r="1.3" fill="#111"/>
<circle cx="444.5" cy="19.9" r="1.3" fill="#111"/>
<circle cx="448.5" cy="19.9" r="1.3" fill="#111"/>
<line x1="433.8" y1="39.6" x2="446" y2="39.6" stroke="#d62a40" stroke-width="1.2"/>
<circle cx="439.9" cy="39.6" r="1.7" fill="#d62a40"/>
<text x="448.7" y="43" font-size="9.5" text-anchor="start" font-weight="normal" fill="#222" >Dexa</text>
<line x1="433.8" y1="56.3" x2="446" y2="56.3" stroke="#1a1a1a" stroke-width="1.2"/>
<circle cx="439.9" cy="56.3" r="1.7" fill="#1a1a1a"/>
<text x="448.7" y="59.7" font-size="9.5" text-anchor="start" font-weight="normal" fill="#222" >Dexa+</text>
<text x="448.7" y="70.7" font-size="9.5" text-anchor="start" font-weight="normal" fill="#222" >PF-03084014</text>
<rect x="57.25" y="226.82" width="11.5" height="23.98" fill="#383838"/>
<line x1="63" y1="226.82" x2="63" y2="225.24" stroke="#222" stroke-width="0.9"/>
<line x1="60" y1="225.24" x2="66" y2="225.24" stroke="#222" stroke-width="1"/>
<rect x="74.2" y="224.3" width="11.5" height="26.5" fill="#2089c2"/>
<line x1="79.95" y1="224.3" x2="79.95" y2="222.41" stroke="#222" stroke-width="0.9"/>
<line x1="76.95" y1="222.41" x2="82.95" y2="222.41" stroke="#222" stroke-width="1"/>
<rect x="91.15" y="216.09" width="11.5" height="34.71" fill="#f26a22"/>
<line x1="96.9" y1="216.09" x2="96.9" y2="215.46" stroke="#222" stroke-width="0.9"/>
<line x1="93.9" y1="215.46" x2="99.9" y2="215.46" stroke="#222" stroke-width="1"/>
<rect x="108.1" y="207.89" width="11.5" height="42.91" fill="#ec1c26"/>
<line x1="113.85" y1="207.89" x2="113.85" y2="207.39" stroke="#222" stroke-width="0.9"/>
<line x1="110.85" y1="207.39" x2="116.85" y2="207.39" stroke="#222" stroke-width="1"/>
<line x1="54.8" y1="187.2" x2="54.8" y2="251.3" stroke="#333" stroke-width="1"/>
<line x1="52.2" y1="250.8" x2="54.8" y2="250.8" stroke="#333" stroke-width="1"/>
<text x="51.2" y="254.15" font-size="9.3" text-anchor="end" font-weight="normal" fill="#222" >0</text>
<line x1="52.2" y1="238.18" x2="54.8" y2="238.18" stroke="#333" stroke-width="1"/>
<text x="51.2" y="241.53" font-size="9.3" text-anchor="end" font-weight="normal" fill="#222" >20</text>
<line x1="52.2" y1="225.56" x2="54.8" y2="225.56" stroke="#333" stroke-width="1"/>
<text x="51.2" y="228.91" font-size="9.3" text-anchor="end" font-weight="normal" fill="#222" >40</text>
<line x1="52.2" y1="212.94" x2="54.8" y2="212.94" stroke="#333" stroke-width="1"/>
<text x="51.2" y="216.29" font-size="9.3" text-anchor="end" font-weight="normal" fill="#222" >60</text>
<line x1="52.2" y1="200.32" x2="54.8" y2="200.32" stroke="#333" stroke-width="1"/>
<text x="51.2" y="203.67" font-size="9.3" text-anchor="end" font-weight="normal" fill="#222" >80</text>
<line x1="52.2" y1="187.7" x2="54.8" y2="187.7" stroke="#333" stroke-width="1"/>
<text x="51.2" y="191.05" font-size="9.3" text-anchor="end" font-weight="normal" fill="#222" >100</text>
<line x1="54.8" y1="250.8" x2="123.8" y2="250.8" stroke="#333" stroke-width="1.1"/>
<text x="0" y="0" font-size="9.5" text-anchor="middle" fill="#222" transform="translate(22.5,220.8) rotate(-90)">CUTLL1</text>
<text x="0" y="0" font-size="9.5" text-anchor="middle" fill="#222" transform="translate(33.8,220.4) rotate(-90)">G<tspan font-size="7" dy="2.3">0</tspan><tspan dy="-2.3">–G</tspan><tspan font-size="7" dy="2.3">1</tspan><tspan dy="-2.3"> (%)</tspan></text>
<polyline points="79.95,191.5 79.95,176.3 113.85,176.3 113.85,180.9" fill="none" stroke="#333" stroke-width="1"/>
<circle cx="92.9" cy="171.4" r="1.3" fill="#111"/>
<circle cx="96.9" cy="171.4" r="1.3" fill="#111"/>
<circle cx="100.9" cy="171.4" r="1.3" fill="#111"/>
<polyline points="96.9,191.5 96.9,184.7 113.85,184.7 113.85,191.5" fill="none" stroke="#333" stroke-width="1"/>
<circle cx="101.38" cy="180.2" r="1.3" fill="#111"/>
<circle cx="105.38" cy="180.2" r="1.3" fill="#111"/>
<circle cx="109.38" cy="180.2" r="1.3" fill="#111"/>
<rect x="171.95" y="217.8" width="11.5" height="33" fill="#383838"/>
<line x1="177.7" y1="217.8" x2="177.7" y2="217.29" stroke="#222" stroke-width="0.9"/>
<line x1="174.7" y1="217.29" x2="180.7" y2="217.29" stroke="#222" stroke-width="1"/>
<rect x="188.9" y="216.54" width="11.5" height="34.26" fill="#2089c2"/>
<line x1="194.65" y1="216.54" x2="194.65" y2="215.91" stroke="#222" stroke-width="0.9"/>
<line x1="191.65" y1="215.91" x2="197.65" y2="215.91" stroke="#222" stroke-width="1"/>
<rect x="205.85" y="196.85" width="11.5" height="53.95" fill="#f26a22"/>
<line x1="211.6" y1="196.85" x2="211.6" y2="196.22" stroke="#222" stroke-width="0.9"/>
<line x1="208.6" y1="196.22" x2="214.6" y2="196.22" stroke="#222" stroke-width="1"/>
<rect x="222.8" y="196.03" width="11.5" height="54.77" fill="#ec1c26"/>
<line x1="228.55" y1="196.03" x2="228.55" y2="194.45" stroke="#222" stroke-width="0.9"/>
<line x1="225.55" y1="194.45" x2="231.55" y2="194.45" stroke="#222" stroke-width="1"/>
<line x1="168.6" y1="187.2" x2="168.6" y2="251.3" stroke="#333" stroke-width="1"/>
<line x1="166" y1="250.8" x2="168.6" y2="250.8" stroke="#333" stroke-width="1"/>
<text x="165" y="254.15" font-size="9.3" text-anchor="end" font-weight="normal" fill="#222" >0</text>
<line x1="166" y1="238.18" x2="168.6" y2="238.18" stroke="#333" stroke-width="1"/>
<text x="165" y="241.53" font-size="9.3" text-anchor="end" font-weight="normal" fill="#222" >20</text>
<line x1="166" y1="225.56" x2="168.6" y2="225.56" stroke="#333" stroke-width="1"/>
<text x="165" y="228.91" font-size="9.3" text-anchor="end" font-weight="normal" fill="#222" >40</text>
<line x1="166" y1="212.94" x2="168.6" y2="212.94" stroke="#333" stroke-width="1"/>
<text x="165" y="216.29" font-size="9.3" text-anchor="end" font-weight="normal" fill="#222" >60</text>
<line x1="166" y1="200.32" x2="168.6" y2="200.32" stroke="#333" stroke-width="1"/>
<text x="165" y="203.67" font-size="9.3" text-anchor="end" font-weight="normal" fill="#222" >80</text>
<line x1="166" y1="187.7" x2="168.6" y2="187.7" stroke="#333" stroke-width="1"/>
<text x="165" y="191.05" font-size="9.3" text-anchor="end" font-weight="normal" fill="#222" >100</text>
<line x1="168.6" y1="250.8" x2="237.6" y2="250.8" stroke="#333" stroke-width="1.1"/>
<text x="0" y="0" font-size="9.5" text-anchor="middle" fill="#222" transform="translate(136.8,220.4) rotate(-90)">KOPTK1</text>
<text x="0" y="0" font-size="9.5" text-anchor="middle" fill="#222" transform="translate(148,220.4) rotate(-90)">G<tspan font-size="7" dy="2.3">0</tspan><tspan dy="-2.3">–G</tspan><tspan font-size="7" dy="2.3">1</tspan><tspan dy="-2.3"> (%)</tspan></text>
<polyline points="194.65,191.5 194.65,175.7 228.55,175.7 228.55,179.9" fill="none" stroke="#333" stroke-width="1"/>
<circle cx="207.6" cy="171.5" r="1.3" fill="#111"/>
<circle cx="211.6" cy="171.5" r="1.3" fill="#111"/>
<circle cx="215.6" cy="171.5" r="1.3" fill="#111"/>
<polyline points="211.6,191.5 211.6,184.9 228.55,184.9 228.55,191.5" fill="none" stroke="#333" stroke-width="1"/>
<text x="220.07" y="183.7" font-size="8.5" text-anchor="middle" font-weight="normal" fill="#222" >NS</text>
<rect x="287.35" y="221.14" width="11.5" height="29.66" fill="#383838"/>
<line x1="293.1" y1="221.14" x2="293.1" y2="220.64" stroke="#222" stroke-width="0.9"/>
<line x1="290.1" y1="220.64" x2="296.1" y2="220.64" stroke="#222" stroke-width="1"/>
<rect x="304.3" y="204.11" width="11.5" height="46.69" fill="#2089c2"/>
<line x1="310.05" y1="204.11" x2="310.05" y2="203.6" stroke="#222" stroke-width="0.9"/>
<line x1="307.05" y1="203.6" x2="313.05" y2="203.6" stroke="#222" stroke-width="1"/>
<rect x="321.25" y="214.2" width="11.5" height="36.6" fill="#f26a22"/>
<line x1="327" y1="214.2" x2="327" y2="213.57" stroke="#222" stroke-width="0.9"/>
<line x1="324" y1="213.57" x2="330" y2="213.57" stroke="#222" stroke-width="1"/>
<rect x="338.2" y="195.27" width="11.5" height="55.53" fill="#ec1c26"/>
<line x1="343.95" y1="195.27" x2="343.95" y2="194.77" stroke="#222" stroke-width="0.9"/>
<line x1="340.95" y1="194.77" x2="346.95" y2="194.77" stroke="#222" stroke-width="1"/>
<line x1="283.9" y1="187.2" x2="283.9" y2="251.3" stroke="#333" stroke-width="1"/>
<line x1="281.3" y1="250.8" x2="283.9" y2="250.8" stroke="#333" stroke-width="1"/>
<text x="280.3" y="254.15" font-size="9.3" text-anchor="end" font-weight="normal" fill="#222" >0</text>
<line x1="281.3" y1="238.18" x2="283.9" y2="238.18" stroke="#333" stroke-width="1"/>
<text x="280.3" y="241.53" font-size="9.3" text-anchor="end" font-weight="normal" fill="#222" >20</text>
<line x1="281.3" y1="225.56" x2="283.9" y2="225.56" stroke="#333" stroke-width="1"/>
<text x="280.3" y="228.91" font-size="9.3" text-anchor="end" font-weight="normal" fill="#222" >40</text>
<line x1="281.3" y1="212.94" x2="283.9" y2="212.94" stroke="#333" stroke-width="1"/>
<text x="280.3" y="216.29" font-size="9.3" text-anchor="end" font-weight="normal" fill="#222" >60</text>
<line x1="281.3" y1="200.32" x2="283.9" y2="200.32" stroke="#333" stroke-width="1"/>
<text x="280.3" y="203.67" font-size="9.3" text-anchor="end" font-weight="normal" fill="#222" >80</text>
<line x1="281.3" y1="187.7" x2="283.9" y2="187.7" stroke="#333" stroke-width="1"/>
<text x="280.3" y="191.05" font-size="9.3" text-anchor="end" font-weight="normal" fill="#222" >100</text>
<line x1="283.9" y1="250.8" x2="352.9" y2="250.8" stroke="#333" stroke-width="1.1"/>
<text x="0" y="0" font-size="9.5" text-anchor="middle" fill="#222" transform="translate(251.7,220.3) rotate(-90)">TALL1</text>
<text x="0" y="0" font-size="9.5" text-anchor="middle" fill="#222" transform="translate(263,220.4) rotate(-90)">G<tspan font-size="7" dy="2.3">0</tspan><tspan dy="-2.3">–G</tspan><tspan font-size="7" dy="2.3">1</tspan><tspan dy="-2.3"> (%)</tspan></text>
<polyline points="310.05,191.5 310.05,176.3 343.95,176.3 343.95,180.9" fill="none" stroke="#333" stroke-width="1"/>
<circle cx="323" cy="171.4" r="1.3" fill="#111"/>
<circle cx="327" cy="171.4" r="1.3" fill="#111"/>
<circle cx="331" cy="171.4" r="1.3" fill="#111"/>
<polyline points="327,191.5 327,184.7 343.95,184.7 343.95,191.5" fill="none" stroke="#333" stroke-width="1"/>
<circle cx="331.47" cy="180.2" r="1.3" fill="#111"/>
<circle cx="335.47" cy="180.2" r="1.3" fill="#111"/>
<circle cx="339.47" cy="180.2" r="1.3" fill="#111"/>
<rect x="359.9" y="186.9" width="7.9" height="7.9" fill="#383838" stroke="#333" stroke-width="0.6"/>
<text x="370" y="194.7" font-size="9.5" text-anchor="start" font-weight="normal" fill="#222" >DMSO</text>
<rect x="359.9" y="197.2" width="7.9" height="7.9" fill="#2089c2" stroke="#333" stroke-width="0.6"/>
<text x="370" y="205" font-size="9.5" text-anchor="start" font-weight="normal" fill="#222" >PF-03084014</text>
<rect x="359.9" y="207.5" width="7.9" height="7.9" fill="#f26a22" stroke="#333" stroke-width="0.6"/>
<text x="370" y="215.3" font-size="9.5" text-anchor="start" font-weight="normal" fill="#222" >Dexa</text>
<rect x="359.9" y="217.8" width="7.9" height="7.9" fill="#ec1c26" stroke="#333" stroke-width="0.6"/>
<text x="370" y="225.6" font-size="9.5" text-anchor="start" font-weight="normal" fill="#222" >Dexa+PF-03084014</text>
<rect x="57.35" y="351.95" width="11.5" height="2.35" fill="#383838"/>
<line x1="63.1" y1="351.95" x2="63.1" y2="351.4" stroke="#222" stroke-width="0.9"/>
<line x1="60.1" y1="351.4" x2="66.1" y2="351.4" stroke="#222" stroke-width="1"/>
<rect x="74.3" y="351.22" width="11.5" height="3.08" fill="#2089c2"/>
<line x1="80.05" y1="351.22" x2="80.05" y2="349.41" stroke="#222" stroke-width="0.9"/>
<line x1="77.05" y1="349.41" x2="83.05" y2="349.41" stroke="#222" stroke-width="1"/>
<rect x="91.25" y="343.43" width="11.5" height="10.87" fill="#f26a22"/>
<line x1="97" y1="343.43" x2="97" y2="342.71" stroke="#222" stroke-width="0.9"/>
<line x1="94" y1="342.71" x2="100" y2="342.71" stroke="#222" stroke-width="1"/>
<rect x="108.2" y="314.45" width="11.5" height="39.85" fill="#ec1c26"/>
<line x1="113.95" y1="314.45" x2="113.95" y2="313.91" stroke="#222" stroke-width="0.9"/>
<line x1="110.95" y1="313.91" x2="116.95" y2="313.91" stroke="#222" stroke-width="1"/>
<line x1="54.5" y1="290.4" x2="54.5" y2="354.8" stroke="#333" stroke-width="1"/>
<line x1="51.9" y1="354.3" x2="54.5" y2="354.3" stroke="#333" stroke-width="1"/>
<text x="50.9" y="357.65" font-size="9.3" text-anchor="end" font-weight="normal" fill="#222" >0</text>
<line x1="51.9" y1="345.24" x2="54.5" y2="345.24" stroke="#333" stroke-width="1"/>
<text x="50.9" y="348.59" font-size="9.3" text-anchor="end" font-weight="normal" fill="#222" >5</text>
<line x1="51.9" y1="336.19" x2="54.5" y2="336.19" stroke="#333" stroke-width="1"/>
<text x="50.9" y="339.53" font-size="9.3" text-anchor="end" font-weight="normal" fill="#222" >10</text>
<line x1="51.9" y1="327.13" x2="54.5" y2="327.13" stroke="#333" stroke-width="1"/>
<text x="50.9" y="330.48" font-size="9.3" text-anchor="end" font-weight="normal" fill="#222" >15</text>
<line x1="51.9" y1="318.07" x2="54.5" y2="318.07" stroke="#333" stroke-width="1"/>
<text x="50.9" y="321.42" font-size="9.3" text-anchor="end" font-weight="normal" fill="#222" >20</text>
<line x1="51.9" y1="309.01" x2="54.5" y2="309.01" stroke="#333" stroke-width="1"/>
<text x="50.9" y="312.36" font-size="9.3" text-anchor="end" font-weight="normal" fill="#222" >25</text>
<line x1="51.9" y1="299.96" x2="54.5" y2="299.96" stroke="#333" stroke-width="1"/>
<text x="50.9" y="303.31" font-size="9.3" text-anchor="end" font-weight="normal" fill="#222" >30</text>
<line x1="51.9" y1="290.9" x2="54.5" y2="290.9" stroke="#333" stroke-width="1"/>
<text x="50.9" y="294.25" font-size="9.3" text-anchor="end" font-weight="normal" fill="#222" >35</text>
<line x1="54.5" y1="354.3" x2="123.5" y2="354.3" stroke="#333" stroke-width="1.1"/>
<text x="0" y="0" font-size="9.5" text-anchor="middle" fill="#222" transform="translate(27.2,326) rotate(-90)">CUTLL1</text>
<text x="0" y="0" font-size="9.5" text-anchor="middle" fill="#222" transform="translate(38.2,322.3) rotate(-90)">apoptosis (%)</text>
<polyline points="97,287.5 97,281.3 113.95,281.3 113.95,287.5" fill="none" stroke="#333" stroke-width="1"/>
<circle cx="101.47" cy="276.3" r="1.3" fill="#111"/>
<circle cx="105.47" cy="276.3" r="1.3" fill="#111"/>
<circle cx="109.47" cy="276.3" r="1.3" fill="#111"/>
<rect x="172.25" y="350.31" width="11.5" height="3.99" fill="#383838"/>
<line x1="178" y1="350.31" x2="178" y2="349.77" stroke="#222" stroke-width="0.9"/>
<line x1="175" y1="349.77" x2="181" y2="349.77" stroke="#222" stroke-width="1"/>
<rect x="189.2" y="349.77" width="11.5" height="4.53" fill="#2089c2"/>
<line x1="194.95" y1="349.77" x2="194.95" y2="349.23" stroke="#222" stroke-width="0.9"/>
<line x1="191.95" y1="349.23" x2="197.95" y2="349.23" stroke="#222" stroke-width="1"/>
<rect x="206.15" y="324.95" width="11.5" height="29.35" fill="#f26a22"/>
<line x1="211.9" y1="324.95" x2="211.9" y2="322.42" stroke="#222" stroke-width="0.9"/>
<line x1="208.9" y1="322.42" x2="214.9" y2="322.42" stroke="#222" stroke-width="1"/>
<rect x="223.1" y="298.87" width="11.5" height="55.43" fill="#ec1c26"/>
<line x1="228.85" y1="298.87" x2="228.85" y2="295.61" stroke="#222" stroke-width="0.9"/>
<line x1="225.85" y1="295.61" x2="231.85" y2="295.61" stroke="#222" stroke-width="1"/>
<line x1="168.6" y1="290.4" x2="168.6" y2="354.8" stroke="#333" stroke-width="1"/>
<line x1="166" y1="354.3" x2="168.6" y2="354.3" stroke="#333" stroke-width="1"/>
<text x="165" y="357.65" font-size="9.3" text-anchor="end" font-weight="normal" fill="#222" >0</text>
<line x1="166" y1="345.24" x2="168.6" y2="345.24" stroke="#333" stroke-width="1"/>
<text x="165" y="348.59" font-size="9.3" text-anchor="end" font-weight="normal" fill="#222" >5</text>
<line x1="166" y1="336.19" x2="168.6" y2="336.19" stroke="#333" stroke-width="1"/>
<text x="165" y="339.53" font-size="9.3" text-anchor="end" font-weight="normal" fill="#222" >10</text>
<line x1="166" y1="327.13" x2="168.6" y2="327.13" stroke="#333" stroke-width="1"/>
<text x="165" y="330.48" font-size="9.3" text-anchor="end" font-weight="normal" fill="#222" >15</text>
<line x1="166" y1="318.07" x2="168.6" y2="318.07" stroke="#333" stroke-width="1"/>
<text x="165" y="321.42" font-size="9.3" text-anchor="end" font-weight="normal" fill="#222" >20</text>
<line x1="166" y1="309.01" x2="168.6" y2="309.01" stroke="#333" stroke-width="1"/>
<text x="165" y="312.36" font-size="9.3" text-anchor="end" font-weight="normal" fill="#222" >25</text>
<line x1="166" y1="299.96" x2="168.6" y2="299.96" stroke="#333" stroke-width="1"/>
<text x="165" y="303.31" font-size="9.3" text-anchor="end" font-weight="normal" fill="#222" >30</text>
<line x1="166" y1="290.9" x2="168.6" y2="290.9" stroke="#333" stroke-width="1"/>
<text x="165" y="294.25" font-size="9.3" text-anchor="end" font-weight="normal" fill="#222" >35</text>
<line x1="168.6" y1="354.3" x2="237.6" y2="354.3" stroke="#333" stroke-width="1.1"/>
<text x="0" y="0" font-size="9.5" text-anchor="middle" fill="#222" transform="translate(141.6,323.7) rotate(-90)">KOPTK1</text>
<text x="0" y="0" font-size="9.5" text-anchor="middle" fill="#222" transform="translate(152.2,319.1) rotate(-90)">apoptosis (%)</text>
<polyline points="211.9,287.5 211.9,281.3 228.85,281.3 228.85,287.5" fill="none" stroke="#333" stroke-width="1"/>
<circle cx="216.38" cy="276.3" r="1.3" fill="#111"/>
<circle cx="220.38" cy="276.3" r="1.3" fill="#111"/>
<circle cx="224.38" cy="276.3" r="1.3" fill="#111"/>
<rect x="287.85" y="349.77" width="11.5" height="4.53" fill="#383838"/>
<line x1="293.6" y1="349.77" x2="293.6" y2="349.23" stroke="#222" stroke-width="0.9"/>
<line x1="290.6" y1="349.23" x2="296.6" y2="349.23" stroke="#222" stroke-width="1"/>
<rect x="304.8" y="348.5" width="11.5" height="5.8" fill="#2089c2"/>
<line x1="310.55" y1="348.5" x2="310.55" y2="347.96" stroke="#222" stroke-width="0.9"/>
<line x1="307.55" y1="347.96" x2="313.55" y2="347.96" stroke="#222" stroke-width="1"/>
<rect x="321.75" y="346.51" width="11.5" height="7.79" fill="#f26a22"/>
<line x1="327.5" y1="346.51" x2="327.5" y2="345.79" stroke="#222" stroke-width="0.9"/>
<line x1="324.5" y1="345.79" x2="330.5" y2="345.79" stroke="#222" stroke-width="1"/>
<rect x="338.7" y="327.13" width="11.5" height="27.17" fill="#ec1c26"/>
<line x1="344.45" y1="327.13" x2="344.45" y2="324.95" stroke="#222" stroke-width="0.9"/>
<line x1="341.45" y1="324.95" x2="347.45" y2="324.95" stroke="#222" stroke-width="1"/>
<line x1="284.1" y1="290.4" x2="284.1" y2="354.8" stroke="#333" stroke-width="1"/>
<line x1="281.5" y1="354.3" x2="284.1" y2="354.3" stroke="#333" stroke-width="1"/>
<text x="280.5" y="357.65" font-size="9.3" text-anchor="end" font-weight="normal" fill="#222" >0</text>
<line x1="281.5" y1="345.24" x2="284.1" y2="345.24" stroke="#333" stroke-width="1"/>
<text x="280.5" y="348.59" font-size="9.3" text-anchor="end" font-weight="normal" fill="#222" >5</text>
<line x1="281.5" y1="336.19" x2="284.1" y2="336.19" stroke="#333" stroke-width="1"/>
<text x="280.5" y="339.53" font-size="9.3" text-anchor="end" font-weight="normal" fill="#222" >10</text>
<line x1="281.5" y1="327.13" x2="284.1" y2="327.13" stroke="#333" stroke-width="1"/>
<text x="280.5" y="330.48" font-size="9.3" text-anchor="end" font-weight="normal" fill="#222" >15</text>
<line x1="281.5" y1="318.07" x2="284.1" y2="318.07" stroke="#333" stroke-width="1"/>
<text x="280.5" y="321.42" font-size="9.3" text-anchor="end" font-weight="normal" fill="#222" >20</text>
<line x1="281.5" y1="309.01" x2="284.1" y2="309.01" stroke="#333" stroke-width="1"/>
<text x="280.5" y="312.36" font-size="9.3" text-anchor="end" font-weight="normal" fill="#222" >25</text>
<line x1="281.5" y1="299.96" x2="284.1" y2="299.96" stroke="#333" stroke-width="1"/>
<text x="280.5" y="303.31" font-size="9.3" text-anchor="end" font-weight="normal" fill="#222" >30</text>
<line x1="281.5" y1="290.9" x2="284.1" y2="290.9" stroke="#333" stroke-width="1"/>
<text x="280.5" y="294.25" font-size="9.3" text-anchor="end" font-weight="normal" fill="#222" >35</text>
<line x1="284.1" y1="354.3" x2="353.1" y2="354.3" stroke="#333" stroke-width="1.1"/>
<text x="0" y="0" font-size="9.5" text-anchor="middle" fill="#222" transform="translate(256.6,323.7) rotate(-90)">TALL1</text>
<text x="0" y="0" font-size="9.5" text-anchor="middle" fill="#222" transform="translate(267.6,320) rotate(-90)">apoptosis (%)</text>
<polyline points="327.5,287.5 327.5,281.3 344.45,281.3 344.45,287.5" fill="none" stroke="#333" stroke-width="1"/>
<circle cx="331.98" cy="276.3" r="1.3" fill="#111"/>
<circle cx="335.98" cy="276.3" r="1.3" fill="#111"/>
<circle cx="339.98" cy="276.3" r="1.3" fill="#111"/>
<rect x="57.15" y="417.91" width="11.5" height="47.19" fill="#383838"/>
<line x1="62.9" y1="417.91" x2="62.9" y2="413.85" stroke="#222" stroke-width="0.9"/>
<line x1="59.9" y1="413.85" x2="65.9" y2="413.85" stroke="#222" stroke-width="1"/>
<rect x="74.1" y="429.16" width="11.5" height="35.94" fill="#2089c2"/>
<line x1="79.85" y1="429.16" x2="79.85" y2="427.29" stroke="#222" stroke-width="0.9"/>
<line x1="76.85" y1="427.29" x2="82.85" y2="427.29" stroke="#222" stroke-width="1"/>
<rect x="91.05" y="424.48" width="11.5" height="40.62" fill="#f26a22"/>
<line x1="96.8" y1="424.48" x2="96.8" y2="423.54" stroke="#222" stroke-width="0.9"/>
<line x1="93.8" y1="423.54" x2="99.8" y2="423.54" stroke="#222" stroke-width="1"/>
<rect x="108" y="441.04" width="11.5" height="24.06" fill="#ec1c26"/>
<line x1="113.75" y1="441.04" x2="113.75" y2="438.54" stroke="#222" stroke-width="0.9"/>
<line x1="110.75" y1="438.54" x2="116.75" y2="438.54" stroke="#222" stroke-width="1"/>
<line x1="54.1" y1="402.1" x2="54.1" y2="465.6" stroke="#333" stroke-width="1"/>
<line x1="51.5" y1="465.1" x2="54.1" y2="465.1" stroke="#333" stroke-width="1"/>
<text x="50.5" y="468.45" font-size="9.3" text-anchor="end" font-weight="normal" fill="#222" >0</text>
<line x1="51.5" y1="449.48" x2="54.1" y2="449.48" stroke="#333" stroke-width="1"/>
<text x="50.5" y="452.82" font-size="9.3" text-anchor="end" font-weight="normal" fill="#222" >0.5</text>
<line x1="51.5" y1="433.85" x2="54.1" y2="433.85" stroke="#333" stroke-width="1"/>
<text x="50.5" y="437.2" font-size="9.3" text-anchor="end" font-weight="normal" fill="#222" >1.0</text>
<line x1="51.5" y1="418.23" x2="54.1" y2="418.23" stroke="#333" stroke-width="1"/>
<text x="50.5" y="421.57" font-size="9.3" text-anchor="end" font-weight="normal" fill="#222" >1.5</text>
<line x1="51.5" y1="402.6" x2="54.1" y2="402.6" stroke="#333" stroke-width="1"/>
<text x="50.5" y="405.95" font-size="9.3" text-anchor="end" font-weight="normal" fill="#222" >2.0</text>
<line x1="54.1" y1="465.1" x2="123.1" y2="465.1" stroke="#333" stroke-width="1.1"/>
<text x="0" y="0" font-size="9.5" text-anchor="middle" fill="#222" transform="translate(22.8,434.5) rotate(-90)">T-ALL patient #1</text>
<text x="0" y="0" font-size="9.5" text-anchor="middle" fill="#222" transform="translate(32.4,432.4) rotate(-90)">(cells x 10<tspan font-size="5" dy="-4">6</tspan><tspan dy="4">/mL)</tspan></text>
<polyline points="79.85,408 79.85,386.9 113.75,386.9 113.75,392.2" fill="none" stroke="#333" stroke-width="1"/>
<circle cx="94.8" cy="383.1" r="1.3" fill="#111"/>
<circle cx="98.8" cy="383.1" r="1.3" fill="#111"/>
<polyline points="96.8,408 96.8,396.7 113.75,396.7 113.75,408" fill="none" stroke="#333" stroke-width="1"/>
<circle cx="101.28" cy="392.7" r="1.3" fill="#111"/>
<circle cx="105.28" cy="392.7" r="1.3" fill="#111"/>
<circle cx="109.28" cy="392.7" r="1.3" fill="#111"/>
<rect x="172.45" y="415.68" width="11.5" height="49.42" fill="#383838"/>
<line x1="178.2" y1="415.68" x2="178.2" y2="411.94" stroke="#222" stroke-width="0.9"/>
<line x1="175.2" y1="411.94" x2="181.2" y2="411.94" stroke="#222" stroke-width="1"/>
<rect x="189.4" y="418.42" width="11.5" height="46.68" fill="#2089c2"/>
<line x1="195.15" y1="418.42" x2="195.15" y2="417.68" stroke="#222" stroke-width="0.9"/>
<line x1="192.15" y1="417.68" x2="198.15" y2="417.68" stroke="#222" stroke-width="1"/>
<rect x="206.35" y="423.92" width="11.5" height="41.18" fill="#f26a22"/>
<line x1="212.1" y1="423.92" x2="212.1" y2="421.42" stroke="#222" stroke-width="0.9"/>
<line x1="209.1" y1="421.42" x2="215.1" y2="421.42" stroke="#222" stroke-width="1"/>
<rect x="223.3" y="434.4" width="11.5" height="30.7" fill="#ec1c26"/>
<line x1="229.05" y1="434.4" x2="229.05" y2="432.65" stroke="#222" stroke-width="0.9"/>
<line x1="226.05" y1="432.65" x2="232.05" y2="432.65" stroke="#222" stroke-width="1"/>
<line x1="169.1" y1="402.2" x2="169.1" y2="465.6" stroke="#333" stroke-width="1"/>
<line x1="166.5" y1="465.1" x2="169.1" y2="465.1" stroke="#333" stroke-width="1"/>
<text x="165.5" y="468.45" font-size="9.3" text-anchor="end" font-weight="normal" fill="#222" >0</text>
<line x1="166.5" y1="452.62" x2="169.1" y2="452.62" stroke="#333" stroke-width="1"/>
<text x="165.5" y="455.97" font-size="9.3" text-anchor="end" font-weight="normal" fill="#222" >0.5</text>
<line x1="166.5" y1="440.14" x2="169.1" y2="440.14" stroke="#333" stroke-width="1"/>
<text x="165.5" y="443.49" font-size="9.3" text-anchor="end" font-weight="normal" fill="#222" >1.0</text>
<line x1="166.5" y1="427.66" x2="169.1" y2="427.66" stroke="#333" stroke-width="1"/>
<text x="165.5" y="431.01" font-size="9.3" text-anchor="end" font-weight="normal" fill="#222" >1.5</text>
<line x1="166.5" y1="415.18" x2="169.1" y2="415.18" stroke="#333" stroke-width="1"/>
<text x="165.5" y="418.53" font-size="9.3" text-anchor="end" font-weight="normal" fill="#222" >2.0</text>
<line x1="166.5" y1="402.7" x2="169.1" y2="402.7" stroke="#333" stroke-width="1"/>
<text x="165.5" y="406.05" font-size="9.3" text-anchor="end" font-weight="normal" fill="#222" >2.5</text>
<line x1="169.1" y1="465.1" x2="238.1" y2="465.1" stroke="#333" stroke-width="1.1"/>
<text x="0" y="0" font-size="9.5" text-anchor="middle" fill="#222" transform="translate(138.4,434.5) rotate(-90)">T-ALL patient #2</text>
<text x="0" y="0" font-size="9.5" text-anchor="middle" fill="#222" transform="translate(148.4,432.4) rotate(-90)">(cells x 10<tspan font-size="5" dy="-4">6</tspan><tspan dy="4">/mL)</tspan></text>
<polyline points="195.15,408 195.15,386.9 229.05,386.9 229.05,392.2" fill="none" stroke="#333" stroke-width="1"/>
<circle cx="208.1" cy="383.1" r="1.3" fill="#111"/>
<circle cx="212.1" cy="383.1" r="1.3" fill="#111"/>
<circle cx="216.1" cy="383.1" r="1.3" fill="#111"/>
<polyline points="212.1,408 212.1,396.7 229.05,396.7 229.05,408" fill="none" stroke="#333" stroke-width="1"/>
<circle cx="216.57" cy="392.7" r="1.3" fill="#111"/>
<circle cx="220.57" cy="392.7" r="1.3" fill="#111"/>
<circle cx="224.57" cy="392.7" r="1.3" fill="#111"/>
<rect x="287.95" y="416.74" width="11.5" height="48.36" fill="#383838"/>
<line x1="293.7" y1="416.74" x2="293.7" y2="412.84" stroke="#222" stroke-width="0.9"/>
<line x1="290.7" y1="412.84" x2="296.7" y2="412.84" stroke="#222" stroke-width="1"/>
<rect x="304.9" y="415.96" width="11.5" height="49.14" fill="#2089c2"/>
<line x1="310.65" y1="415.96" x2="310.65" y2="415.57" stroke="#222" stroke-width="0.9"/>
<line x1="307.65" y1="415.57" x2="313.65" y2="415.57" stroke="#222" stroke-width="1"/>
<rect x="321.85" y="419.08" width="11.5" height="46.02" fill="#f26a22"/>
<line x1="327.6" y1="419.08" x2="327.6" y2="415.18" stroke="#222" stroke-width="0.9"/>
<line x1="324.6" y1="415.18" x2="330.6" y2="415.18" stroke="#222" stroke-width="1"/>
<rect x="338.8" y="426.88" width="11.5" height="38.22" fill="#ec1c26"/>
<line x1="344.55" y1="426.88" x2="344.55" y2="424.54" stroke="#222" stroke-width="0.9"/>
<line x1="341.55" y1="424.54" x2="347.55" y2="424.54" stroke="#222" stroke-width="1"/>
<line x1="284.1" y1="402.2" x2="284.1" y2="465.6" stroke="#333" stroke-width="1"/>
<line x1="281.5" y1="465.1" x2="284.1" y2="465.1" stroke="#333" stroke-width="1"/>
<text x="280.5" y="468.45" font-size="9.3" text-anchor="end" font-weight="normal" fill="#222" >0</text>
<line x1="281.5" y1="449.5" x2="284.1" y2="449.5" stroke="#333" stroke-width="1"/>
<text x="280.5" y="452.85" font-size="9.3" text-anchor="end" font-weight="normal" fill="#222" >0.2</text>
<line x1="281.5" y1="433.9" x2="284.1" y2="433.9" stroke="#333" stroke-width="1"/>
<text x="280.5" y="437.25" font-size="9.3" text-anchor="end" font-weight="normal" fill="#222" >0.4</text>
<line x1="281.5" y1="418.3" x2="284.1" y2="418.3" stroke="#333" stroke-width="1"/>
<text x="280.5" y="421.65" font-size="9.3" text-anchor="end" font-weight="normal" fill="#222" >0.6</text>
<line x1="281.5" y1="402.7" x2="284.1" y2="402.7" stroke="#333" stroke-width="1"/>
<text x="280.5" y="406.05" font-size="9.3" text-anchor="end" font-weight="normal" fill="#222" >0.8</text>
<line x1="284.1" y1="465.1" x2="353.1" y2="465.1" stroke="#333" stroke-width="1.1"/>
<text x="0" y="0" font-size="9.5" text-anchor="middle" fill="#222" transform="translate(253.4,434.5) rotate(-90)">T-ALL patient #3</text>
<text x="0" y="0" font-size="9.5" text-anchor="middle" fill="#222" transform="translate(263.9,432.4) rotate(-90)">(cells x 10<tspan font-size="5" dy="-4">6</tspan><tspan dy="4">/mL)</tspan></text>
<polyline points="310.65,408 310.65,386.9 344.55,386.9 344.55,392.2" fill="none" stroke="#333" stroke-width="1"/>
<circle cx="327.6" cy="383.1" r="1.3" fill="#111"/>
<polyline points="327.6,408 327.6,396.7 344.55,396.7 344.55,408" fill="none" stroke="#333" stroke-width="1"/>
<circle cx="334.08" cy="392.7" r="1.3" fill="#111"/>
<circle cx="338.08" cy="392.7" r="1.3" fill="#111"/>
<line x1="408.3" y1="290.4" x2="408.3" y2="381" stroke="#333" stroke-width="1"/>
<line x1="405.7" y1="301.4" x2="408.3" y2="301.4" stroke="#333" stroke-width="1"/>
<text x="401.5" y="303.35" font-size="9.3" text-anchor="end" font-weight="normal" fill="#222" >100</text>
<line x1="405.7" y1="317.22" x2="408.3" y2="317.22" stroke="#333" stroke-width="1"/>
<text x="401.5" y="319.55" font-size="9.3" text-anchor="end" font-weight="normal" fill="#222" >80</text>
<line x1="405.7" y1="333.04" x2="408.3" y2="333.04" stroke="#333" stroke-width="1"/>
<text x="401.5" y="335.75" font-size="9.3" text-anchor="end" font-weight="normal" fill="#222" >60</text>
<line x1="405.7" y1="348.86" x2="408.3" y2="348.86" stroke="#333" stroke-width="1"/>
<text x="401.5" y="351.95" font-size="9.3" text-anchor="end" font-weight="normal" fill="#222" >40</text>
<line x1="405.7" y1="364.68" x2="408.3" y2="364.68" stroke="#333" stroke-width="1"/>
<text x="401.5" y="368.15" font-size="9.3" text-anchor="end" font-weight="normal" fill="#222" >20</text>
<line x1="405.7" y1="380.5" x2="408.3" y2="380.5" stroke="#333" stroke-width="1"/>
<text x="401.5" y="384.35" font-size="9.3" text-anchor="end" font-weight="normal" fill="#222" >0</text>
<line x1="408.3" y1="380.5" x2="500.08" y2="380.5" stroke="#333" stroke-width="1.1"/>
<line x1="412.23" y1="380.5" x2="412.23" y2="382.7" stroke="#333" stroke-width="0.75"/>
<line x1="414.52" y1="380.5" x2="414.52" y2="382.7" stroke="#333" stroke-width="0.75"/>
<line x1="416.15" y1="380.5" x2="416.15" y2="382.7" stroke="#333" stroke-width="0.75"/>
<line x1="417.41" y1="380.5" x2="417.41" y2="382.7" stroke="#333" stroke-width="0.75"/>
<line x1="418.45" y1="380.5" x2="418.45" y2="382.7" stroke="#333" stroke-width="0.75"/>
<line x1="419.32" y1="380.5" x2="419.32" y2="382.7" stroke="#333" stroke-width="0.75"/>
<line x1="420.08" y1="380.5" x2="420.08" y2="382.7" stroke="#333" stroke-width="0.75"/>
<line x1="420.74" y1="380.5" x2="420.74" y2="382.7" stroke="#333" stroke-width="0.75"/>
<line x1="425.27" y1="380.5" x2="425.27" y2="382.7" stroke="#333" stroke-width="0.75"/>
<line x1="427.56" y1="380.5" x2="427.56" y2="382.7" stroke="#333" stroke-width="0.75"/>
<line x1="429.19" y1="380.5" x2="429.19" y2="382.7" stroke="#333" stroke-width="0.75"/>
<line x1="430.45" y1="380.5" x2="430.45" y2="382.7" stroke="#333" stroke-width="0.75"/>
<line x1="431.49" y1="380.5" x2="431.49" y2="382.7" stroke="#333" stroke-width="0.75"/>
<line x1="432.36" y1="380.5" x2="432.36" y2="382.7" stroke="#333" stroke-width="0.75"/>
<line x1="433.12" y1="380.5" x2="433.12" y2="382.7" stroke="#333" stroke-width="0.75"/>
<line x1="433.78" y1="380.5" x2="433.78" y2="382.7" stroke="#333" stroke-width="0.75"/>
<line x1="438.31" y1="380.5" x2="438.31" y2="382.7" stroke="#333" stroke-width="0.75"/>
<line x1="440.6" y1="380.5" x2="440.6" y2="382.7" stroke="#333" stroke-width="0.75"/>
<line x1="442.23" y1="380.5" x2="442.23" y2="382.7" stroke="#333" stroke-width="0.75"/>
<line x1="443.49" y1="380.5" x2="443.49" y2="382.7" stroke="#333" stroke-width="0.75"/>
<line x1="444.53" y1="380.5" x2="444.53" y2="382.7" stroke="#333" stroke-width="0.75"/>
<line x1="445.4" y1="380.5" x2="445.4" y2="382.7" stroke="#333" stroke-width="0.75"/>
<line x1="446.16" y1="380.5" x2="446.16" y2="382.7" stroke="#333" stroke-width="0.75"/>
<line x1="446.82" y1="380.5" x2="446.82" y2="382.7" stroke="#333" stroke-width="0.75"/>
<line x1="451.35" y1="380.5" x2="451.35" y2="382.7" stroke="#333" stroke-width="0.75"/>
<line x1="453.64" y1="380.5" x2="453.64" y2="382.7" stroke="#333" stroke-width="0.75"/>
<line x1="455.27" y1="380.5" x2="455.27" y2="382.7" stroke="#333" stroke-width="0.75"/>
<line x1="456.53" y1="380.5" x2="456.53" y2="382.7" stroke="#333" stroke-width="0.75"/>
<line x1="457.57" y1="380.5" x2="457.57" y2="382.7" stroke="#333" stroke-width="0.75"/>
<line x1="458.44" y1="380.5" x2="458.44" y2="382.7" stroke="#333" stroke-width="0.75"/>
<line x1="459.2" y1="380.5" x2="459.2" y2="382.7" stroke="#333" stroke-width="0.75"/>
<line x1="459.86" y1="380.5" x2="459.86" y2="382.7" stroke="#333" stroke-width="0.75"/>
<line x1="464.39" y1="380.5" x2="464.39" y2="382.7" stroke="#333" stroke-width="0.75"/>
<line x1="466.68" y1="380.5" x2="466.68" y2="382.7" stroke="#333" stroke-width="0.75"/>
<line x1="468.31" y1="380.5" x2="468.31" y2="382.7" stroke="#333" stroke-width="0.75"/>
<line x1="469.57" y1="380.5" x2="469.57" y2="382.7" stroke="#333" stroke-width="0.75"/>
<line x1="470.61" y1="380.5" x2="470.61" y2="382.7" stroke="#333" stroke-width="0.75"/>
<line x1="471.48" y1="380.5" x2="471.48" y2="382.7" stroke="#333" stroke-width="0.75"/>
<line x1="472.24" y1="380.5" x2="472.24" y2="382.7" stroke="#333" stroke-width="0.75"/>
<line x1="472.9" y1="380.5" x2="472.9" y2="382.7" stroke="#333" stroke-width="0.75"/>
<line x1="477.43" y1="380.5" x2="477.43" y2="382.7" stroke="#333" stroke-width="0.75"/>
<line x1="479.72" y1="380.5" x2="479.72" y2="382.7" stroke="#333" stroke-width="0.75"/>
<line x1="481.35" y1="380.5" x2="481.35" y2="382.7" stroke="#333" stroke-width="0.75"/>
<line x1="482.61" y1="380.5" x2="482.61" y2="382.7" stroke="#333" stroke-width="0.75"/>
<line x1="483.65" y1="380.5" x2="483.65" y2="382.7" stroke="#333" stroke-width="0.75"/>
<line x1="484.52" y1="380.5" x2="484.52" y2="382.7" stroke="#333" stroke-width="0.75"/>
<line x1="485.28" y1="380.5" x2="485.28" y2="382.7" stroke="#333" stroke-width="0.75"/>
<line x1="485.94" y1="380.5" x2="485.94" y2="382.7" stroke="#333" stroke-width="0.75"/>
<line x1="490.47" y1="380.5" x2="490.47" y2="382.7" stroke="#333" stroke-width="0.75"/>
<line x1="492.76" y1="380.5" x2="492.76" y2="382.7" stroke="#333" stroke-width="0.75"/>
<line x1="494.39" y1="380.5" x2="494.39" y2="382.7" stroke="#333" stroke-width="0.75"/>
<line x1="495.65" y1="380.5" x2="495.65" y2="382.7" stroke="#333" stroke-width="0.75"/>
<line x1="496.69" y1="380.5" x2="496.69" y2="382.7" stroke="#333" stroke-width="0.75"/>
<line x1="497.56" y1="380.5" x2="497.56" y2="382.7" stroke="#333" stroke-width="0.75"/>
<line x1="498.32" y1="380.5" x2="498.32" y2="382.7" stroke="#333" stroke-width="0.75"/>
<line x1="498.98" y1="380.5" x2="498.98" y2="382.7" stroke="#333" stroke-width="0.75"/>
<line x1="408.3" y1="380.5" x2="408.3" y2="383.3" stroke="#333" stroke-width="1.0"/>
<line x1="421.34" y1="380.5" x2="421.34" y2="383.3" stroke="#333" stroke-width="1.0"/>
<line x1="434.38" y1="380.5" x2="434.38" y2="383.3" stroke="#333" stroke-width="1.0"/>
<line x1="447.42" y1="380.5" x2="447.42" y2="383.3" stroke="#333" stroke-width="1.0"/>
<line x1="460.46" y1="380.5" x2="460.46" y2="383.3" stroke="#333" stroke-width="1.0"/>
<line x1="473.5" y1="380.5" x2="473.5" y2="383.3" stroke="#333" stroke-width="1.0"/>
<line x1="486.54" y1="380.5" x2="486.54" y2="383.3" stroke="#333" stroke-width="1.0"/>
<line x1="499.58" y1="380.5" x2="499.58" y2="383.3" stroke="#333" stroke-width="1.0"/>
<text x="0" y="0" font-size="9.3" text-anchor="end" fill="#222" transform="translate(410.18,386.83) rotate(-45)">0</text>
<text x="0" y="0" font-size="9.3" text-anchor="end" fill="#222" transform="translate(426.17,389.33) rotate(-45)">10<tspan font-size="4.5" dx="0.7" dy="-6.3">−12</tspan></text>
<text x="0" y="0" font-size="9.3" text-anchor="end" fill="#222" transform="translate(440.57,389.33) rotate(-45)">10<tspan font-size="4.5" dx="0.7" dy="-6.3">−11</tspan></text>
<text x="0" y="0" font-size="9.3" text-anchor="end" fill="#222" transform="translate(454.97,389.33) rotate(-45)">10<tspan font-size="4.5" dx="0.7" dy="-6.3">−10</tspan></text>
<text x="0" y="0" font-size="9.3" text-anchor="end" fill="#222" transform="translate(467.6,391.1) rotate(-45)">10<tspan font-size="4.5" dx="0.7" dy="-6.3">−9</tspan></text>
<text x="0" y="0" font-size="9.3" text-anchor="end" fill="#222" transform="translate(480.6,391.1) rotate(-45)">10<tspan font-size="4.5" dx="0.7" dy="-6.3">−8</tspan></text>
<text x="0" y="0" font-size="9.3" text-anchor="end" fill="#222" transform="translate(492.9,391.1) rotate(-45)">10<tspan font-size="4.5" dx="0.7" dy="-6.3">−7</tspan></text>
<text x="0" y="0" font-size="9.3" text-anchor="end" fill="#222" transform="translate(505.6,391.1) rotate(-45)">10<tspan font-size="4.5" dx="0.7" dy="-6.3">−6</tspan></text>
<text x="457.9" y="412.3" font-size="9.5" text-anchor="middle" font-weight="normal" fill="#222" >Concentration</text>
<text x="457.9" y="423.6" font-size="9.5" text-anchor="middle" font-weight="normal" fill="#222" >Rapamycin (mol/L)</text>
<text x="0" y="0" font-size="9.5" text-anchor="middle" fill="#222" transform="translate(376.8,338.7) rotate(-90)">RPMI 8402</text>
<text x="0" y="0" font-size="9.5" text-anchor="middle" fill="#222" transform="translate(388.4,337.2) rotate(-90)">viability (%)</text>
<path d="M408.3,301.4 C409.34,301.32 419.25,300.12 421.34,300.37 C423.43,300.62 432.29,304.36 434.38,304.56 C436.47,304.77 445.33,302.29 447.42,302.98 C449.51,303.68 458.37,311.95 460.46,313.26 C462.55,314.58 471.41,318.96 473.5,319.43 C475.59,319.91 484.45,319.44 486.54,319.2 C488.63,318.96 498.54,316.65 499.58,316.43" fill="none" stroke="#dd3a44" stroke-width="0.85"/>
<circle cx="408.3" cy="301.4" r="1.232" fill="#dd3a44"/>
<line x1="421.34" y1="298" x2="421.34" y2="302.74" stroke="#dd3a44" stroke-width="0.9"/>
<line x1="419.74" y1="298" x2="422.94" y2="298" stroke="#dd3a44" stroke-width="0.9"/>
<line x1="419.74" y1="302.74" x2="422.94" y2="302.74" stroke="#dd3a44" stroke-width="0.9"/>
<circle cx="421.34" cy="300.37" r="1.232" fill="#dd3a44"/>
<line x1="434.38" y1="302.19" x2="434.38" y2="306.94" stroke="#dd3a44" stroke-width="0.9"/>
<line x1="432.78" y1="302.19" x2="435.98" y2="302.19" stroke="#dd3a44" stroke-width="0.9"/>
<line x1="432.78" y1="306.94" x2="435.98" y2="306.94" stroke="#dd3a44" stroke-width="0.9"/>
<circle cx="434.38" cy="304.56" r="1.232" fill="#dd3a44"/>
<line x1="447.42" y1="300.61" x2="447.42" y2="305.35" stroke="#dd3a44" stroke-width="0.9"/>
<line x1="445.82" y1="300.61" x2="449.02" y2="300.61" stroke="#dd3a44" stroke-width="0.9"/>
<line x1="445.82" y1="305.35" x2="449.02" y2="305.35" stroke="#dd3a44" stroke-width="0.9"/>
<circle cx="447.42" cy="302.98" r="1.232" fill="#dd3a44"/>
<circle cx="460.46" cy="313.26" r="1.232" fill="#dd3a44"/>
<circle cx="473.5" cy="319.43" r="1.232" fill="#dd3a44"/>
<line x1="486.54" y1="316.03" x2="486.54" y2="322.36" stroke="#dd3a44" stroke-width="0.9"/>
<line x1="484.94" y1="316.03" x2="488.14" y2="316.03" stroke="#dd3a44" stroke-width="0.9"/>
<line x1="484.94" y1="322.36" x2="488.14" y2="322.36" stroke="#dd3a44" stroke-width="0.9"/>
<circle cx="486.54" cy="319.2" r="1.232" fill="#dd3a44"/>
<circle cx="499.58" cy="316.43" r="1.232" fill="#dd3a44"/>
<path d="M408.3,301.4 C409.34,301.43 419.25,301.76 421.34,301.8 C423.43,301.83 432.29,301.16 434.38,301.8 C436.47,302.43 445.33,307.3 447.42,309.71 C449.51,312.11 458.37,329.64 460.46,331.85 C462.55,334.07 471.41,336.95 473.5,337.39 C475.59,337.83 484.45,337.52 486.54,337.39 C488.63,337.26 498.54,335.94 499.58,335.81" fill="none" stroke="#1a1a1a" stroke-width="1.08"/>
<line x1="408.3" y1="297.44" x2="408.3" y2="305.35" stroke="#1a1a1a" stroke-width="0.9"/>
<line x1="406.7" y1="297.44" x2="409.9" y2="297.44" stroke="#1a1a1a" stroke-width="0.9"/>
<line x1="406.7" y1="305.35" x2="409.9" y2="305.35" stroke="#1a1a1a" stroke-width="0.9"/>
<circle cx="408.3" cy="301.4" r="1.4" fill="#1a1a1a"/>
<circle cx="421.34" cy="301.8" r="1.4" fill="#1a1a1a"/>
<line x1="434.38" y1="300.21" x2="434.38" y2="303.38" stroke="#1a1a1a" stroke-width="0.9"/>
<line x1="432.78" y1="300.21" x2="435.98" y2="300.21" stroke="#1a1a1a" stroke-width="0.9"/>
<line x1="432.78" y1="303.38" x2="435.98" y2="303.38" stroke="#1a1a1a" stroke-width="0.9"/>
<circle cx="434.38" cy="301.8" r="1.4" fill="#1a1a1a"/>
<line x1="447.42" y1="308.12" x2="447.42" y2="311.29" stroke="#1a1a1a" stroke-width="0.9"/>
<line x1="445.82" y1="308.12" x2="449.02" y2="308.12" stroke="#1a1a1a" stroke-width="0.9"/>
<line x1="445.82" y1="311.29" x2="449.02" y2="311.29" stroke="#1a1a1a" stroke-width="0.9"/>
<circle cx="447.42" cy="309.71" r="1.4" fill="#1a1a1a"/>
<circle cx="460.46" cy="331.85" r="1.4" fill="#1a1a1a"/>
<circle cx="473.5" cy="337.39" r="1.4" fill="#1a1a1a"/>
<line x1="486.54" y1="334.23" x2="486.54" y2="340.55" stroke="#1a1a1a" stroke-width="0.9"/>
<line x1="484.94" y1="334.23" x2="488.14" y2="334.23" stroke="#1a1a1a" stroke-width="0.9"/>
<line x1="484.94" y1="340.55" x2="488.14" y2="340.55" stroke="#1a1a1a" stroke-width="0.9"/>
<circle cx="486.54" cy="337.39" r="1.4" fill="#1a1a1a"/>
<line x1="499.58" y1="335.02" x2="499.58" y2="336.6" stroke="#1a1a1a" stroke-width="0.9"/>
<line x1="497.98" y1="335.02" x2="501.18" y2="335.02" stroke="#1a1a1a" stroke-width="0.9"/>
<line x1="497.98" y1="336.6" x2="501.18" y2="336.6" stroke="#1a1a1a" stroke-width="0.9"/>
<circle cx="499.58" cy="335.81" r="1.4" fill="#1a1a1a"/>
<circle cx="444.7" cy="292.9" r="1.25" fill="#111"/>
<circle cx="448.7" cy="292.9" r="1.25" fill="#111"/>
<circle cx="455.8" cy="292.9" r="1.25" fill="#111"/>
<circle cx="459.8" cy="292.9" r="1.25" fill="#111"/>
<circle cx="463.8" cy="292.9" r="1.25" fill="#111"/>
<circle cx="468.8" cy="292.9" r="1.25" fill="#111"/>
<circle cx="472.8" cy="292.9" r="1.25" fill="#111"/>
<circle cx="476.8" cy="292.9" r="1.25" fill="#111"/>
<circle cx="481.8" cy="292.9" r="1.25" fill="#111"/>
<circle cx="485.8" cy="292.9" r="1.25" fill="#111"/>
<circle cx="489.8" cy="292.9" r="1.25" fill="#111"/>
<circle cx="494.8" cy="292.9" r="1.25" fill="#111"/>
<circle cx="498.8" cy="292.9" r="1.25" fill="#111"/>
<circle cx="502.8" cy="292.9" r="1.25" fill="#111"/>
<line x1="415" y1="435.2" x2="428.4" y2="435.2" stroke="#d62a40" stroke-width="1.2"/>
<circle cx="421.6" cy="435.2" r="1.7" fill="#d62a40"/>
<text x="430.2" y="438.3" font-size="9.3" text-anchor="start" font-weight="normal" fill="#222" >Rapamycin</text>
<line x1="415" y1="451.1" x2="428.4" y2="451.1" stroke="#1a1a1a" stroke-width="1.2"/>
<circle cx="421.6" cy="451.1" r="1.7" fill="#1a1a1a"/>
<text x="430.2" y="454.2" font-size="9.3" text-anchor="start" font-weight="normal" fill="#222" >Rapamycin+</text>
<text x="430.2" y="465.6" font-size="9.3" text-anchor="start" font-weight="normal" fill="#222" >PF-03084014</text>
</g>
<rect x="0" y="0" width="520" height="1" fill="#8c8c8c"/>
<rect x="0" y="0" width="1" height="481" fill="#8c8c8c"/>
<rect x="518" y="0" width="2" height="481" fill="#8a8a8a"/>
<rect x="0" y="479" width="520" height="2" fill="#8a8a8a"/>
</svg>
</body></html>
